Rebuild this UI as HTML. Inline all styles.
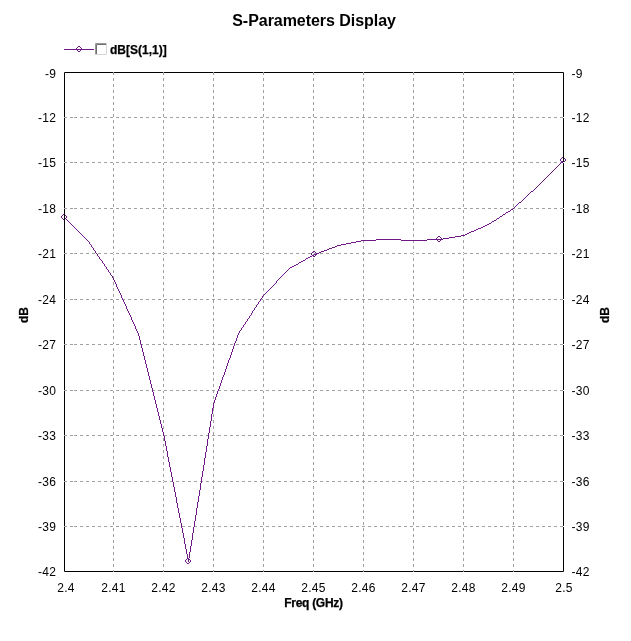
<!DOCTYPE html>
<html><head><meta charset="utf-8"><title>S-Parameters Display</title>
<style>
html,body{margin:0;padding:0;background:#fff;width:631px;height:641px;overflow:hidden}
svg{display:block;font-family:"Liberation Sans",sans-serif;will-change:transform}
</style></head><body>
<svg width="631" height="641" viewBox="0 0 631 641" font-family="Liberation Sans, sans-serif" fill="#000"><g fill="#a0a0a0"><rect x="65" y="117" width="2" height="1"/><rect x="65" y="162" width="2" height="1"/><rect x="65" y="208" width="2" height="1"/><rect x="65" y="253" width="2" height="1"/><rect x="65" y="299" width="2" height="1"/><rect x="65" y="344" width="2" height="1"/><rect x="65" y="390" width="2" height="1"/><rect x="65" y="435" width="2" height="1"/><rect x="65" y="481" width="2" height="1"/><rect x="65" y="526" width="2" height="1"/><rect x="70" y="117" width="3" height="1"/><rect x="70" y="162" width="3" height="1"/><rect x="70" y="208" width="3" height="1"/><rect x="70" y="253" width="3" height="1"/><rect x="70" y="299" width="3" height="1"/><rect x="70" y="344" width="3" height="1"/><rect x="70" y="390" width="3" height="1"/><rect x="70" y="435" width="3" height="1"/><rect x="70" y="481" width="3" height="1"/><rect x="70" y="526" width="3" height="1"/><rect x="74" y="117" width="3" height="1"/><rect x="74" y="162" width="3" height="1"/><rect x="74" y="208" width="3" height="1"/><rect x="74" y="253" width="3" height="1"/><rect x="74" y="299" width="3" height="1"/><rect x="74" y="344" width="3" height="1"/><rect x="74" y="390" width="3" height="1"/><rect x="74" y="435" width="3" height="1"/><rect x="74" y="481" width="3" height="1"/><rect x="74" y="526" width="3" height="1"/><rect x="80" y="117" width="3" height="1"/><rect x="80" y="162" width="3" height="1"/><rect x="80" y="208" width="3" height="1"/><rect x="80" y="253" width="3" height="1"/><rect x="80" y="299" width="3" height="1"/><rect x="80" y="344" width="3" height="1"/><rect x="80" y="390" width="3" height="1"/><rect x="80" y="435" width="3" height="1"/><rect x="80" y="481" width="3" height="1"/><rect x="80" y="526" width="3" height="1"/><rect x="86" y="117" width="3" height="1"/><rect x="86" y="162" width="3" height="1"/><rect x="86" y="208" width="3" height="1"/><rect x="86" y="253" width="3" height="1"/><rect x="86" y="299" width="3" height="1"/><rect x="86" y="344" width="3" height="1"/><rect x="86" y="390" width="3" height="1"/><rect x="86" y="435" width="3" height="1"/><rect x="86" y="481" width="3" height="1"/><rect x="86" y="526" width="3" height="1"/><rect x="92" y="117" width="3" height="1"/><rect x="92" y="162" width="3" height="1"/><rect x="92" y="208" width="3" height="1"/><rect x="92" y="253" width="3" height="1"/><rect x="92" y="299" width="3" height="1"/><rect x="92" y="344" width="3" height="1"/><rect x="92" y="390" width="3" height="1"/><rect x="92" y="435" width="3" height="1"/><rect x="92" y="481" width="3" height="1"/><rect x="92" y="526" width="3" height="1"/><rect x="98" y="117" width="3" height="1"/><rect x="98" y="162" width="3" height="1"/><rect x="98" y="208" width="3" height="1"/><rect x="98" y="253" width="3" height="1"/><rect x="98" y="299" width="3" height="1"/><rect x="98" y="344" width="3" height="1"/><rect x="98" y="390" width="3" height="1"/><rect x="98" y="435" width="3" height="1"/><rect x="98" y="481" width="3" height="1"/><rect x="98" y="526" width="3" height="1"/><rect x="104" y="117" width="3" height="1"/><rect x="104" y="162" width="3" height="1"/><rect x="104" y="208" width="3" height="1"/><rect x="104" y="253" width="3" height="1"/><rect x="104" y="299" width="3" height="1"/><rect x="104" y="344" width="3" height="1"/><rect x="104" y="390" width="3" height="1"/><rect x="104" y="435" width="3" height="1"/><rect x="104" y="481" width="3" height="1"/><rect x="104" y="526" width="3" height="1"/><rect x="110" y="117" width="3" height="1"/><rect x="110" y="162" width="3" height="1"/><rect x="110" y="208" width="3" height="1"/><rect x="110" y="253" width="3" height="1"/><rect x="110" y="299" width="3" height="1"/><rect x="110" y="344" width="3" height="1"/><rect x="110" y="390" width="3" height="1"/><rect x="110" y="435" width="3" height="1"/><rect x="110" y="481" width="3" height="1"/><rect x="110" y="526" width="3" height="1"/><rect x="113" y="73" width="1" height="2"/><rect x="113" y="78" width="1" height="3"/><rect x="113" y="84" width="1" height="3"/><rect x="113" y="90" width="1" height="3"/><rect x="113" y="96" width="1" height="3"/><rect x="113" y="102" width="1" height="3"/><rect x="113" y="108" width="1" height="3"/><rect x="113" y="114" width="1" height="3"/><rect x="113" y="120" width="1" height="3"/><rect x="113" y="126" width="1" height="3"/><rect x="113" y="132" width="1" height="3"/><rect x="113" y="138" width="1" height="3"/><rect x="113" y="144" width="1" height="3"/><rect x="113" y="150" width="1" height="3"/><rect x="113" y="156" width="1" height="3"/><rect x="113" y="163" width="1" height="2"/><rect x="113" y="168" width="1" height="3"/><rect x="113" y="174" width="1" height="3"/><rect x="113" y="180" width="1" height="3"/><rect x="113" y="186" width="1" height="3"/><rect x="113" y="192" width="1" height="3"/><rect x="113" y="198" width="1" height="3"/><rect x="113" y="204" width="1" height="3"/><rect x="113" y="210" width="1" height="3"/><rect x="113" y="216" width="1" height="3"/><rect x="113" y="222" width="1" height="3"/><rect x="113" y="228" width="1" height="3"/><rect x="113" y="234" width="1" height="3"/><rect x="113" y="240" width="1" height="3"/><rect x="113" y="246" width="1" height="3"/><rect x="113" y="252" width="1" height="1"/><rect x="113" y="254" width="1" height="1"/><rect x="113" y="258" width="1" height="3"/><rect x="113" y="264" width="1" height="3"/><rect x="113" y="270" width="1" height="3"/><rect x="113" y="276" width="1" height="3"/><rect x="113" y="282" width="1" height="3"/><rect x="113" y="288" width="1" height="3"/><rect x="113" y="294" width="1" height="3"/><rect x="113" y="300" width="1" height="3"/><rect x="113" y="306" width="1" height="3"/><rect x="113" y="312" width="1" height="3"/><rect x="113" y="318" width="1" height="3"/><rect x="113" y="324" width="1" height="3"/><rect x="113" y="330" width="1" height="3"/><rect x="113" y="336" width="1" height="3"/><rect x="113" y="342" width="1" height="2"/><rect x="113" y="348" width="1" height="3"/><rect x="113" y="354" width="1" height="3"/><rect x="113" y="360" width="1" height="3"/><rect x="113" y="366" width="1" height="3"/><rect x="113" y="372" width="1" height="3"/><rect x="113" y="378" width="1" height="3"/><rect x="113" y="384" width="1" height="3"/><rect x="113" y="391" width="1" height="2"/><rect x="113" y="396" width="1" height="3"/><rect x="113" y="402" width="1" height="3"/><rect x="113" y="408" width="1" height="3"/><rect x="113" y="414" width="1" height="3"/><rect x="113" y="420" width="1" height="3"/><rect x="113" y="426" width="1" height="3"/><rect x="113" y="432" width="1" height="3"/><rect x="113" y="438" width="1" height="3"/><rect x="113" y="444" width="1" height="3"/><rect x="113" y="450" width="1" height="3"/><rect x="113" y="456" width="1" height="3"/><rect x="113" y="462" width="1" height="3"/><rect x="113" y="468" width="1" height="3"/><rect x="113" y="474" width="1" height="3"/><rect x="113" y="480" width="1" height="1"/><rect x="113" y="482" width="1" height="1"/><rect x="113" y="486" width="1" height="3"/><rect x="113" y="492" width="1" height="3"/><rect x="113" y="498" width="1" height="3"/><rect x="113" y="504" width="1" height="3"/><rect x="113" y="510" width="1" height="3"/><rect x="113" y="516" width="1" height="3"/><rect x="113" y="522" width="1" height="3"/><rect x="113" y="528" width="1" height="3"/><rect x="113" y="534" width="1" height="3"/><rect x="113" y="540" width="1" height="3"/><rect x="113" y="546" width="1" height="3"/><rect x="113" y="552" width="1" height="3"/><rect x="113" y="558" width="1" height="3"/><rect x="113" y="564" width="1" height="3"/><rect x="113" y="570" width="1" height="1"/><rect x="116" y="117" width="3" height="1"/><rect x="116" y="162" width="3" height="1"/><rect x="116" y="208" width="3" height="1"/><rect x="116" y="253" width="3" height="1"/><rect x="116" y="299" width="3" height="1"/><rect x="116" y="344" width="3" height="1"/><rect x="116" y="390" width="3" height="1"/><rect x="116" y="435" width="3" height="1"/><rect x="116" y="481" width="3" height="1"/><rect x="116" y="526" width="3" height="1"/><rect x="122" y="117" width="3" height="1"/><rect x="122" y="162" width="3" height="1"/><rect x="122" y="208" width="3" height="1"/><rect x="122" y="253" width="3" height="1"/><rect x="122" y="299" width="3" height="1"/><rect x="122" y="344" width="3" height="1"/><rect x="122" y="390" width="3" height="1"/><rect x="122" y="435" width="3" height="1"/><rect x="122" y="481" width="3" height="1"/><rect x="122" y="526" width="3" height="1"/><rect x="128" y="117" width="3" height="1"/><rect x="128" y="162" width="3" height="1"/><rect x="128" y="208" width="3" height="1"/><rect x="128" y="253" width="3" height="1"/><rect x="128" y="299" width="3" height="1"/><rect x="128" y="344" width="3" height="1"/><rect x="128" y="390" width="3" height="1"/><rect x="128" y="435" width="3" height="1"/><rect x="128" y="481" width="3" height="1"/><rect x="128" y="526" width="3" height="1"/><rect x="134" y="117" width="3" height="1"/><rect x="134" y="162" width="3" height="1"/><rect x="134" y="208" width="3" height="1"/><rect x="134" y="253" width="3" height="1"/><rect x="134" y="299" width="3" height="1"/><rect x="134" y="344" width="3" height="1"/><rect x="134" y="390" width="3" height="1"/><rect x="134" y="435" width="3" height="1"/><rect x="134" y="481" width="3" height="1"/><rect x="134" y="526" width="3" height="1"/><rect x="140" y="117" width="3" height="1"/><rect x="140" y="162" width="3" height="1"/><rect x="140" y="208" width="3" height="1"/><rect x="140" y="253" width="3" height="1"/><rect x="140" y="299" width="3" height="1"/><rect x="140" y="344" width="3" height="1"/><rect x="140" y="390" width="3" height="1"/><rect x="140" y="435" width="3" height="1"/><rect x="140" y="481" width="3" height="1"/><rect x="140" y="526" width="3" height="1"/><rect x="146" y="117" width="3" height="1"/><rect x="146" y="162" width="3" height="1"/><rect x="146" y="208" width="3" height="1"/><rect x="146" y="253" width="3" height="1"/><rect x="146" y="299" width="3" height="1"/><rect x="146" y="344" width="3" height="1"/><rect x="146" y="390" width="3" height="1"/><rect x="146" y="435" width="3" height="1"/><rect x="146" y="481" width="3" height="1"/><rect x="146" y="526" width="3" height="1"/><rect x="152" y="117" width="3" height="1"/><rect x="152" y="162" width="3" height="1"/><rect x="152" y="208" width="3" height="1"/><rect x="152" y="253" width="3" height="1"/><rect x="152" y="299" width="3" height="1"/><rect x="152" y="344" width="3" height="1"/><rect x="152" y="390" width="3" height="1"/><rect x="152" y="435" width="3" height="1"/><rect x="152" y="481" width="3" height="1"/><rect x="152" y="526" width="3" height="1"/><rect x="158" y="117" width="3" height="1"/><rect x="158" y="162" width="3" height="1"/><rect x="158" y="208" width="3" height="1"/><rect x="158" y="253" width="3" height="1"/><rect x="158" y="299" width="3" height="1"/><rect x="158" y="344" width="3" height="1"/><rect x="158" y="390" width="3" height="1"/><rect x="158" y="435" width="3" height="1"/><rect x="158" y="481" width="3" height="1"/><rect x="158" y="526" width="3" height="1"/><rect x="163" y="73" width="1" height="2"/><rect x="163" y="78" width="1" height="3"/><rect x="163" y="84" width="1" height="3"/><rect x="163" y="90" width="1" height="3"/><rect x="163" y="96" width="1" height="3"/><rect x="163" y="102" width="1" height="3"/><rect x="163" y="108" width="1" height="3"/><rect x="163" y="114" width="1" height="3"/><rect x="163" y="120" width="1" height="3"/><rect x="163" y="126" width="1" height="3"/><rect x="163" y="132" width="1" height="3"/><rect x="163" y="138" width="1" height="3"/><rect x="163" y="144" width="1" height="3"/><rect x="163" y="150" width="1" height="3"/><rect x="163" y="156" width="1" height="3"/><rect x="163" y="163" width="1" height="2"/><rect x="163" y="168" width="1" height="3"/><rect x="163" y="174" width="1" height="3"/><rect x="163" y="180" width="1" height="3"/><rect x="163" y="186" width="1" height="3"/><rect x="163" y="192" width="1" height="3"/><rect x="163" y="198" width="1" height="3"/><rect x="163" y="204" width="1" height="3"/><rect x="163" y="210" width="1" height="3"/><rect x="163" y="216" width="1" height="3"/><rect x="163" y="222" width="1" height="3"/><rect x="163" y="228" width="1" height="3"/><rect x="163" y="234" width="1" height="3"/><rect x="163" y="240" width="1" height="3"/><rect x="163" y="246" width="1" height="3"/><rect x="163" y="252" width="1" height="1"/><rect x="163" y="254" width="1" height="1"/><rect x="163" y="258" width="1" height="3"/><rect x="163" y="264" width="1" height="3"/><rect x="163" y="270" width="1" height="3"/><rect x="163" y="276" width="1" height="3"/><rect x="163" y="282" width="1" height="3"/><rect x="163" y="288" width="1" height="3"/><rect x="163" y="294" width="1" height="3"/><rect x="163" y="300" width="1" height="3"/><rect x="163" y="306" width="1" height="3"/><rect x="163" y="312" width="1" height="3"/><rect x="163" y="318" width="1" height="3"/><rect x="163" y="324" width="1" height="3"/><rect x="163" y="330" width="1" height="3"/><rect x="163" y="336" width="1" height="3"/><rect x="163" y="342" width="1" height="2"/><rect x="163" y="348" width="1" height="3"/><rect x="163" y="354" width="1" height="3"/><rect x="163" y="360" width="1" height="3"/><rect x="163" y="366" width="1" height="3"/><rect x="163" y="372" width="1" height="3"/><rect x="163" y="378" width="1" height="3"/><rect x="163" y="384" width="1" height="3"/><rect x="163" y="391" width="1" height="2"/><rect x="163" y="396" width="1" height="3"/><rect x="163" y="402" width="1" height="3"/><rect x="163" y="408" width="1" height="3"/><rect x="163" y="414" width="1" height="3"/><rect x="163" y="420" width="1" height="3"/><rect x="163" y="426" width="1" height="3"/><rect x="163" y="432" width="1" height="3"/><rect x="163" y="438" width="1" height="3"/><rect x="163" y="444" width="1" height="3"/><rect x="163" y="450" width="1" height="3"/><rect x="163" y="456" width="1" height="3"/><rect x="163" y="462" width="1" height="3"/><rect x="163" y="468" width="1" height="3"/><rect x="163" y="474" width="1" height="3"/><rect x="163" y="480" width="1" height="1"/><rect x="163" y="482" width="1" height="1"/><rect x="163" y="486" width="1" height="3"/><rect x="163" y="492" width="1" height="3"/><rect x="163" y="498" width="1" height="3"/><rect x="163" y="504" width="1" height="3"/><rect x="163" y="510" width="1" height="3"/><rect x="163" y="516" width="1" height="3"/><rect x="163" y="522" width="1" height="3"/><rect x="163" y="528" width="1" height="3"/><rect x="163" y="534" width="1" height="3"/><rect x="163" y="540" width="1" height="3"/><rect x="163" y="546" width="1" height="3"/><rect x="163" y="552" width="1" height="3"/><rect x="163" y="558" width="1" height="3"/><rect x="163" y="564" width="1" height="3"/><rect x="163" y="570" width="1" height="1"/><rect x="164" y="117" width="3" height="1"/><rect x="164" y="162" width="3" height="1"/><rect x="164" y="208" width="3" height="1"/><rect x="164" y="253" width="3" height="1"/><rect x="164" y="299" width="3" height="1"/><rect x="164" y="344" width="3" height="1"/><rect x="164" y="390" width="3" height="1"/><rect x="164" y="435" width="3" height="1"/><rect x="164" y="481" width="3" height="1"/><rect x="164" y="526" width="3" height="1"/><rect x="170" y="117" width="3" height="1"/><rect x="170" y="162" width="3" height="1"/><rect x="170" y="208" width="3" height="1"/><rect x="170" y="253" width="3" height="1"/><rect x="170" y="299" width="3" height="1"/><rect x="170" y="344" width="3" height="1"/><rect x="170" y="390" width="3" height="1"/><rect x="170" y="435" width="3" height="1"/><rect x="170" y="481" width="3" height="1"/><rect x="170" y="526" width="3" height="1"/><rect x="176" y="117" width="3" height="1"/><rect x="176" y="162" width="3" height="1"/><rect x="176" y="208" width="3" height="1"/><rect x="176" y="253" width="3" height="1"/><rect x="176" y="299" width="3" height="1"/><rect x="176" y="344" width="3" height="1"/><rect x="176" y="390" width="3" height="1"/><rect x="176" y="435" width="3" height="1"/><rect x="176" y="481" width="3" height="1"/><rect x="176" y="526" width="3" height="1"/><rect x="182" y="117" width="3" height="1"/><rect x="182" y="162" width="3" height="1"/><rect x="182" y="208" width="3" height="1"/><rect x="182" y="253" width="3" height="1"/><rect x="182" y="299" width="3" height="1"/><rect x="182" y="344" width="3" height="1"/><rect x="182" y="390" width="3" height="1"/><rect x="182" y="435" width="3" height="1"/><rect x="182" y="481" width="3" height="1"/><rect x="182" y="526" width="3" height="1"/><rect x="188" y="117" width="3" height="1"/><rect x="188" y="162" width="3" height="1"/><rect x="188" y="208" width="3" height="1"/><rect x="188" y="253" width="3" height="1"/><rect x="188" y="299" width="3" height="1"/><rect x="188" y="344" width="3" height="1"/><rect x="188" y="390" width="3" height="1"/><rect x="188" y="435" width="3" height="1"/><rect x="188" y="481" width="3" height="1"/><rect x="188" y="526" width="3" height="1"/><rect x="194" y="117" width="3" height="1"/><rect x="194" y="162" width="3" height="1"/><rect x="194" y="208" width="3" height="1"/><rect x="194" y="253" width="3" height="1"/><rect x="194" y="299" width="3" height="1"/><rect x="194" y="344" width="3" height="1"/><rect x="194" y="390" width="3" height="1"/><rect x="194" y="435" width="3" height="1"/><rect x="194" y="481" width="3" height="1"/><rect x="194" y="526" width="3" height="1"/><rect x="200" y="117" width="3" height="1"/><rect x="200" y="162" width="3" height="1"/><rect x="200" y="208" width="3" height="1"/><rect x="200" y="253" width="3" height="1"/><rect x="200" y="299" width="3" height="1"/><rect x="200" y="344" width="3" height="1"/><rect x="200" y="390" width="3" height="1"/><rect x="200" y="435" width="3" height="1"/><rect x="200" y="481" width="3" height="1"/><rect x="200" y="526" width="3" height="1"/><rect x="206" y="117" width="3" height="1"/><rect x="206" y="162" width="3" height="1"/><rect x="206" y="208" width="3" height="1"/><rect x="206" y="253" width="3" height="1"/><rect x="206" y="299" width="3" height="1"/><rect x="206" y="344" width="3" height="1"/><rect x="206" y="390" width="3" height="1"/><rect x="206" y="435" width="3" height="1"/><rect x="206" y="481" width="3" height="1"/><rect x="206" y="526" width="3" height="1"/><rect x="212" y="117" width="3" height="1"/><rect x="212" y="162" width="3" height="1"/><rect x="212" y="208" width="3" height="1"/><rect x="212" y="253" width="3" height="1"/><rect x="212" y="299" width="3" height="1"/><rect x="212" y="344" width="3" height="1"/><rect x="212" y="390" width="3" height="1"/><rect x="212" y="435" width="3" height="1"/><rect x="212" y="481" width="3" height="1"/><rect x="212" y="526" width="3" height="1"/><rect x="213" y="73" width="1" height="2"/><rect x="213" y="78" width="1" height="3"/><rect x="213" y="84" width="1" height="3"/><rect x="213" y="90" width="1" height="3"/><rect x="213" y="96" width="1" height="3"/><rect x="213" y="102" width="1" height="3"/><rect x="213" y="108" width="1" height="3"/><rect x="213" y="114" width="1" height="3"/><rect x="213" y="120" width="1" height="3"/><rect x="213" y="126" width="1" height="3"/><rect x="213" y="132" width="1" height="3"/><rect x="213" y="138" width="1" height="3"/><rect x="213" y="144" width="1" height="3"/><rect x="213" y="150" width="1" height="3"/><rect x="213" y="156" width="1" height="3"/><rect x="213" y="163" width="1" height="2"/><rect x="213" y="168" width="1" height="3"/><rect x="213" y="174" width="1" height="3"/><rect x="213" y="180" width="1" height="3"/><rect x="213" y="186" width="1" height="3"/><rect x="213" y="192" width="1" height="3"/><rect x="213" y="198" width="1" height="3"/><rect x="213" y="204" width="1" height="3"/><rect x="213" y="210" width="1" height="3"/><rect x="213" y="216" width="1" height="3"/><rect x="213" y="222" width="1" height="3"/><rect x="213" y="228" width="1" height="3"/><rect x="213" y="234" width="1" height="3"/><rect x="213" y="240" width="1" height="3"/><rect x="213" y="246" width="1" height="3"/><rect x="213" y="252" width="1" height="1"/><rect x="213" y="254" width="1" height="1"/><rect x="213" y="258" width="1" height="3"/><rect x="213" y="264" width="1" height="3"/><rect x="213" y="270" width="1" height="3"/><rect x="213" y="276" width="1" height="3"/><rect x="213" y="282" width="1" height="3"/><rect x="213" y="288" width="1" height="3"/><rect x="213" y="294" width="1" height="3"/><rect x="213" y="300" width="1" height="3"/><rect x="213" y="306" width="1" height="3"/><rect x="213" y="312" width="1" height="3"/><rect x="213" y="318" width="1" height="3"/><rect x="213" y="324" width="1" height="3"/><rect x="213" y="330" width="1" height="3"/><rect x="213" y="336" width="1" height="3"/><rect x="213" y="342" width="1" height="2"/><rect x="213" y="348" width="1" height="3"/><rect x="213" y="354" width="1" height="3"/><rect x="213" y="360" width="1" height="3"/><rect x="213" y="366" width="1" height="3"/><rect x="213" y="372" width="1" height="3"/><rect x="213" y="378" width="1" height="3"/><rect x="213" y="384" width="1" height="3"/><rect x="213" y="391" width="1" height="2"/><rect x="213" y="396" width="1" height="3"/><rect x="213" y="402" width="1" height="3"/><rect x="213" y="408" width="1" height="3"/><rect x="213" y="414" width="1" height="3"/><rect x="213" y="420" width="1" height="3"/><rect x="213" y="426" width="1" height="3"/><rect x="213" y="432" width="1" height="3"/><rect x="213" y="438" width="1" height="3"/><rect x="213" y="444" width="1" height="3"/><rect x="213" y="450" width="1" height="3"/><rect x="213" y="456" width="1" height="3"/><rect x="213" y="462" width="1" height="3"/><rect x="213" y="468" width="1" height="3"/><rect x="213" y="474" width="1" height="3"/><rect x="213" y="480" width="1" height="1"/><rect x="213" y="482" width="1" height="1"/><rect x="213" y="486" width="1" height="3"/><rect x="213" y="492" width="1" height="3"/><rect x="213" y="498" width="1" height="3"/><rect x="213" y="504" width="1" height="3"/><rect x="213" y="510" width="1" height="3"/><rect x="213" y="516" width="1" height="3"/><rect x="213" y="522" width="1" height="3"/><rect x="213" y="528" width="1" height="3"/><rect x="213" y="534" width="1" height="3"/><rect x="213" y="540" width="1" height="3"/><rect x="213" y="546" width="1" height="3"/><rect x="213" y="552" width="1" height="3"/><rect x="213" y="558" width="1" height="3"/><rect x="213" y="564" width="1" height="3"/><rect x="213" y="570" width="1" height="1"/><rect x="218" y="117" width="3" height="1"/><rect x="218" y="162" width="3" height="1"/><rect x="218" y="208" width="3" height="1"/><rect x="218" y="253" width="3" height="1"/><rect x="218" y="299" width="3" height="1"/><rect x="218" y="344" width="3" height="1"/><rect x="218" y="390" width="3" height="1"/><rect x="218" y="435" width="3" height="1"/><rect x="218" y="481" width="3" height="1"/><rect x="218" y="526" width="3" height="1"/><rect x="224" y="117" width="3" height="1"/><rect x="224" y="162" width="3" height="1"/><rect x="224" y="208" width="3" height="1"/><rect x="224" y="253" width="3" height="1"/><rect x="224" y="299" width="3" height="1"/><rect x="224" y="344" width="3" height="1"/><rect x="224" y="390" width="3" height="1"/><rect x="224" y="435" width="3" height="1"/><rect x="224" y="481" width="3" height="1"/><rect x="224" y="526" width="3" height="1"/><rect x="230" y="117" width="3" height="1"/><rect x="230" y="162" width="3" height="1"/><rect x="230" y="208" width="3" height="1"/><rect x="230" y="253" width="3" height="1"/><rect x="230" y="299" width="3" height="1"/><rect x="230" y="344" width="3" height="1"/><rect x="230" y="390" width="3" height="1"/><rect x="230" y="435" width="3" height="1"/><rect x="230" y="481" width="3" height="1"/><rect x="230" y="526" width="3" height="1"/><rect x="236" y="117" width="3" height="1"/><rect x="236" y="162" width="3" height="1"/><rect x="236" y="208" width="3" height="1"/><rect x="236" y="253" width="3" height="1"/><rect x="236" y="299" width="3" height="1"/><rect x="236" y="344" width="3" height="1"/><rect x="236" y="390" width="3" height="1"/><rect x="236" y="435" width="3" height="1"/><rect x="236" y="481" width="3" height="1"/><rect x="236" y="526" width="3" height="1"/><rect x="242" y="117" width="3" height="1"/><rect x="242" y="162" width="3" height="1"/><rect x="242" y="208" width="3" height="1"/><rect x="242" y="253" width="3" height="1"/><rect x="242" y="299" width="3" height="1"/><rect x="242" y="344" width="3" height="1"/><rect x="242" y="390" width="3" height="1"/><rect x="242" y="435" width="3" height="1"/><rect x="242" y="481" width="3" height="1"/><rect x="242" y="526" width="3" height="1"/><rect x="248" y="117" width="3" height="1"/><rect x="248" y="162" width="3" height="1"/><rect x="248" y="208" width="3" height="1"/><rect x="248" y="253" width="3" height="1"/><rect x="248" y="299" width="3" height="1"/><rect x="248" y="344" width="3" height="1"/><rect x="248" y="390" width="3" height="1"/><rect x="248" y="435" width="3" height="1"/><rect x="248" y="481" width="3" height="1"/><rect x="248" y="526" width="3" height="1"/><rect x="254" y="117" width="3" height="1"/><rect x="254" y="162" width="3" height="1"/><rect x="254" y="208" width="3" height="1"/><rect x="254" y="253" width="3" height="1"/><rect x="254" y="299" width="3" height="1"/><rect x="254" y="344" width="3" height="1"/><rect x="254" y="390" width="3" height="1"/><rect x="254" y="435" width="3" height="1"/><rect x="254" y="481" width="3" height="1"/><rect x="254" y="526" width="3" height="1"/><rect x="260" y="117" width="3" height="1"/><rect x="260" y="162" width="3" height="1"/><rect x="260" y="208" width="3" height="1"/><rect x="260" y="253" width="3" height="1"/><rect x="260" y="299" width="3" height="1"/><rect x="260" y="344" width="3" height="1"/><rect x="260" y="390" width="3" height="1"/><rect x="260" y="435" width="3" height="1"/><rect x="260" y="481" width="3" height="1"/><rect x="260" y="526" width="3" height="1"/><rect x="263" y="73" width="1" height="2"/><rect x="263" y="78" width="1" height="3"/><rect x="263" y="84" width="1" height="3"/><rect x="263" y="90" width="1" height="3"/><rect x="263" y="96" width="1" height="3"/><rect x="263" y="102" width="1" height="3"/><rect x="263" y="108" width="1" height="3"/><rect x="263" y="114" width="1" height="3"/><rect x="263" y="120" width="1" height="3"/><rect x="263" y="126" width="1" height="3"/><rect x="263" y="132" width="1" height="3"/><rect x="263" y="138" width="1" height="3"/><rect x="263" y="144" width="1" height="3"/><rect x="263" y="150" width="1" height="3"/><rect x="263" y="156" width="1" height="3"/><rect x="263" y="163" width="1" height="2"/><rect x="263" y="168" width="1" height="3"/><rect x="263" y="174" width="1" height="3"/><rect x="263" y="180" width="1" height="3"/><rect x="263" y="186" width="1" height="3"/><rect x="263" y="192" width="1" height="3"/><rect x="263" y="198" width="1" height="3"/><rect x="263" y="204" width="1" height="3"/><rect x="263" y="210" width="1" height="3"/><rect x="263" y="216" width="1" height="3"/><rect x="263" y="222" width="1" height="3"/><rect x="263" y="228" width="1" height="3"/><rect x="263" y="234" width="1" height="3"/><rect x="263" y="240" width="1" height="3"/><rect x="263" y="246" width="1" height="3"/><rect x="263" y="252" width="1" height="1"/><rect x="263" y="254" width="1" height="1"/><rect x="263" y="258" width="1" height="3"/><rect x="263" y="264" width="1" height="3"/><rect x="263" y="270" width="1" height="3"/><rect x="263" y="276" width="1" height="3"/><rect x="263" y="282" width="1" height="3"/><rect x="263" y="288" width="1" height="3"/><rect x="263" y="294" width="1" height="3"/><rect x="263" y="300" width="1" height="3"/><rect x="263" y="306" width="1" height="3"/><rect x="263" y="312" width="1" height="3"/><rect x="263" y="318" width="1" height="3"/><rect x="263" y="324" width="1" height="3"/><rect x="263" y="330" width="1" height="3"/><rect x="263" y="336" width="1" height="3"/><rect x="263" y="342" width="1" height="2"/><rect x="263" y="348" width="1" height="3"/><rect x="263" y="354" width="1" height="3"/><rect x="263" y="360" width="1" height="3"/><rect x="263" y="366" width="1" height="3"/><rect x="263" y="372" width="1" height="3"/><rect x="263" y="378" width="1" height="3"/><rect x="263" y="384" width="1" height="3"/><rect x="263" y="391" width="1" height="2"/><rect x="263" y="396" width="1" height="3"/><rect x="263" y="402" width="1" height="3"/><rect x="263" y="408" width="1" height="3"/><rect x="263" y="414" width="1" height="3"/><rect x="263" y="420" width="1" height="3"/><rect x="263" y="426" width="1" height="3"/><rect x="263" y="432" width="1" height="3"/><rect x="263" y="438" width="1" height="3"/><rect x="263" y="444" width="1" height="3"/><rect x="263" y="450" width="1" height="3"/><rect x="263" y="456" width="1" height="3"/><rect x="263" y="462" width="1" height="3"/><rect x="263" y="468" width="1" height="3"/><rect x="263" y="474" width="1" height="3"/><rect x="263" y="480" width="1" height="1"/><rect x="263" y="482" width="1" height="1"/><rect x="263" y="486" width="1" height="3"/><rect x="263" y="492" width="1" height="3"/><rect x="263" y="498" width="1" height="3"/><rect x="263" y="504" width="1" height="3"/><rect x="263" y="510" width="1" height="3"/><rect x="263" y="516" width="1" height="3"/><rect x="263" y="522" width="1" height="3"/><rect x="263" y="528" width="1" height="3"/><rect x="263" y="534" width="1" height="3"/><rect x="263" y="540" width="1" height="3"/><rect x="263" y="546" width="1" height="3"/><rect x="263" y="552" width="1" height="3"/><rect x="263" y="558" width="1" height="3"/><rect x="263" y="564" width="1" height="3"/><rect x="263" y="570" width="1" height="1"/><rect x="266" y="117" width="3" height="1"/><rect x="266" y="162" width="3" height="1"/><rect x="266" y="208" width="3" height="1"/><rect x="266" y="253" width="3" height="1"/><rect x="266" y="299" width="3" height="1"/><rect x="266" y="344" width="3" height="1"/><rect x="266" y="390" width="3" height="1"/><rect x="266" y="435" width="3" height="1"/><rect x="266" y="481" width="3" height="1"/><rect x="266" y="526" width="3" height="1"/><rect x="272" y="117" width="3" height="1"/><rect x="272" y="162" width="3" height="1"/><rect x="272" y="208" width="3" height="1"/><rect x="272" y="253" width="3" height="1"/><rect x="272" y="299" width="3" height="1"/><rect x="272" y="344" width="3" height="1"/><rect x="272" y="390" width="3" height="1"/><rect x="272" y="435" width="3" height="1"/><rect x="272" y="481" width="3" height="1"/><rect x="272" y="526" width="3" height="1"/><rect x="278" y="117" width="3" height="1"/><rect x="278" y="162" width="3" height="1"/><rect x="278" y="208" width="3" height="1"/><rect x="278" y="253" width="3" height="1"/><rect x="278" y="299" width="3" height="1"/><rect x="278" y="344" width="3" height="1"/><rect x="278" y="390" width="3" height="1"/><rect x="278" y="435" width="3" height="1"/><rect x="278" y="481" width="3" height="1"/><rect x="278" y="526" width="3" height="1"/><rect x="284" y="117" width="3" height="1"/><rect x="284" y="162" width="3" height="1"/><rect x="284" y="208" width="3" height="1"/><rect x="284" y="253" width="3" height="1"/><rect x="284" y="299" width="3" height="1"/><rect x="284" y="344" width="3" height="1"/><rect x="284" y="390" width="3" height="1"/><rect x="284" y="435" width="3" height="1"/><rect x="284" y="481" width="3" height="1"/><rect x="284" y="526" width="3" height="1"/><rect x="290" y="117" width="3" height="1"/><rect x="290" y="162" width="3" height="1"/><rect x="290" y="208" width="3" height="1"/><rect x="290" y="253" width="3" height="1"/><rect x="290" y="299" width="3" height="1"/><rect x="290" y="344" width="3" height="1"/><rect x="290" y="390" width="3" height="1"/><rect x="290" y="435" width="3" height="1"/><rect x="290" y="481" width="3" height="1"/><rect x="290" y="526" width="3" height="1"/><rect x="296" y="117" width="3" height="1"/><rect x="296" y="162" width="3" height="1"/><rect x="296" y="208" width="3" height="1"/><rect x="296" y="253" width="3" height="1"/><rect x="296" y="299" width="3" height="1"/><rect x="296" y="344" width="3" height="1"/><rect x="296" y="390" width="3" height="1"/><rect x="296" y="435" width="3" height="1"/><rect x="296" y="481" width="3" height="1"/><rect x="296" y="526" width="3" height="1"/><rect x="302" y="117" width="3" height="1"/><rect x="302" y="162" width="3" height="1"/><rect x="302" y="208" width="3" height="1"/><rect x="302" y="253" width="3" height="1"/><rect x="302" y="299" width="3" height="1"/><rect x="302" y="344" width="3" height="1"/><rect x="302" y="390" width="3" height="1"/><rect x="302" y="435" width="3" height="1"/><rect x="302" y="481" width="3" height="1"/><rect x="302" y="526" width="3" height="1"/><rect x="308" y="117" width="3" height="1"/><rect x="308" y="162" width="3" height="1"/><rect x="308" y="208" width="3" height="1"/><rect x="308" y="253" width="3" height="1"/><rect x="308" y="299" width="3" height="1"/><rect x="308" y="344" width="3" height="1"/><rect x="308" y="390" width="3" height="1"/><rect x="308" y="435" width="3" height="1"/><rect x="308" y="481" width="3" height="1"/><rect x="308" y="526" width="3" height="1"/><rect x="313" y="73" width="1" height="2"/><rect x="313" y="78" width="1" height="3"/><rect x="313" y="84" width="1" height="3"/><rect x="313" y="90" width="1" height="3"/><rect x="313" y="96" width="1" height="3"/><rect x="313" y="102" width="1" height="3"/><rect x="313" y="108" width="1" height="3"/><rect x="313" y="114" width="1" height="3"/><rect x="313" y="120" width="1" height="3"/><rect x="313" y="126" width="1" height="3"/><rect x="313" y="132" width="1" height="3"/><rect x="313" y="138" width="1" height="3"/><rect x="313" y="144" width="1" height="3"/><rect x="313" y="150" width="1" height="3"/><rect x="313" y="156" width="1" height="3"/><rect x="313" y="163" width="1" height="2"/><rect x="313" y="168" width="1" height="3"/><rect x="313" y="174" width="1" height="3"/><rect x="313" y="180" width="1" height="3"/><rect x="313" y="186" width="1" height="3"/><rect x="313" y="192" width="1" height="3"/><rect x="313" y="198" width="1" height="3"/><rect x="313" y="204" width="1" height="3"/><rect x="313" y="210" width="1" height="3"/><rect x="313" y="216" width="1" height="3"/><rect x="313" y="222" width="1" height="3"/><rect x="313" y="228" width="1" height="3"/><rect x="313" y="234" width="1" height="3"/><rect x="313" y="240" width="1" height="3"/><rect x="313" y="246" width="1" height="3"/><rect x="313" y="252" width="1" height="1"/><rect x="313" y="254" width="1" height="1"/><rect x="313" y="258" width="1" height="3"/><rect x="313" y="264" width="1" height="3"/><rect x="313" y="270" width="1" height="3"/><rect x="313" y="276" width="1" height="3"/><rect x="313" y="282" width="1" height="3"/><rect x="313" y="288" width="1" height="3"/><rect x="313" y="294" width="1" height="3"/><rect x="313" y="300" width="1" height="3"/><rect x="313" y="306" width="1" height="3"/><rect x="313" y="312" width="1" height="3"/><rect x="313" y="318" width="1" height="3"/><rect x="313" y="324" width="1" height="3"/><rect x="313" y="330" width="1" height="3"/><rect x="313" y="336" width="1" height="3"/><rect x="313" y="342" width="1" height="2"/><rect x="313" y="348" width="1" height="3"/><rect x="313" y="354" width="1" height="3"/><rect x="313" y="360" width="1" height="3"/><rect x="313" y="366" width="1" height="3"/><rect x="313" y="372" width="1" height="3"/><rect x="313" y="378" width="1" height="3"/><rect x="313" y="384" width="1" height="3"/><rect x="313" y="391" width="1" height="2"/><rect x="313" y="396" width="1" height="3"/><rect x="313" y="402" width="1" height="3"/><rect x="313" y="408" width="1" height="3"/><rect x="313" y="414" width="1" height="3"/><rect x="313" y="420" width="1" height="3"/><rect x="313" y="426" width="1" height="3"/><rect x="313" y="432" width="1" height="3"/><rect x="313" y="438" width="1" height="3"/><rect x="313" y="444" width="1" height="3"/><rect x="313" y="450" width="1" height="3"/><rect x="313" y="456" width="1" height="3"/><rect x="313" y="462" width="1" height="3"/><rect x="313" y="468" width="1" height="3"/><rect x="313" y="474" width="1" height="3"/><rect x="313" y="480" width="1" height="1"/><rect x="313" y="482" width="1" height="1"/><rect x="313" y="486" width="1" height="3"/><rect x="313" y="492" width="1" height="3"/><rect x="313" y="498" width="1" height="3"/><rect x="313" y="504" width="1" height="3"/><rect x="313" y="510" width="1" height="3"/><rect x="313" y="516" width="1" height="3"/><rect x="313" y="522" width="1" height="3"/><rect x="313" y="528" width="1" height="3"/><rect x="313" y="534" width="1" height="3"/><rect x="313" y="540" width="1" height="3"/><rect x="313" y="546" width="1" height="3"/><rect x="313" y="552" width="1" height="3"/><rect x="313" y="558" width="1" height="3"/><rect x="313" y="564" width="1" height="3"/><rect x="313" y="570" width="1" height="1"/><rect x="314" y="117" width="3" height="1"/><rect x="314" y="162" width="3" height="1"/><rect x="314" y="208" width="3" height="1"/><rect x="314" y="253" width="3" height="1"/><rect x="314" y="299" width="3" height="1"/><rect x="314" y="344" width="3" height="1"/><rect x="314" y="390" width="3" height="1"/><rect x="314" y="435" width="3" height="1"/><rect x="314" y="481" width="3" height="1"/><rect x="314" y="526" width="3" height="1"/><rect x="320" y="117" width="3" height="1"/><rect x="320" y="162" width="3" height="1"/><rect x="320" y="208" width="3" height="1"/><rect x="320" y="253" width="3" height="1"/><rect x="320" y="299" width="3" height="1"/><rect x="320" y="344" width="3" height="1"/><rect x="320" y="390" width="3" height="1"/><rect x="320" y="435" width="3" height="1"/><rect x="320" y="481" width="3" height="1"/><rect x="320" y="526" width="3" height="1"/><rect x="326" y="117" width="3" height="1"/><rect x="326" y="162" width="3" height="1"/><rect x="326" y="208" width="3" height="1"/><rect x="326" y="253" width="3" height="1"/><rect x="326" y="299" width="3" height="1"/><rect x="326" y="344" width="3" height="1"/><rect x="326" y="390" width="3" height="1"/><rect x="326" y="435" width="3" height="1"/><rect x="326" y="481" width="3" height="1"/><rect x="326" y="526" width="3" height="1"/><rect x="332" y="117" width="3" height="1"/><rect x="332" y="162" width="3" height="1"/><rect x="332" y="208" width="3" height="1"/><rect x="332" y="253" width="3" height="1"/><rect x="332" y="299" width="3" height="1"/><rect x="332" y="344" width="3" height="1"/><rect x="332" y="390" width="3" height="1"/><rect x="332" y="435" width="3" height="1"/><rect x="332" y="481" width="3" height="1"/><rect x="332" y="526" width="3" height="1"/><rect x="338" y="117" width="3" height="1"/><rect x="338" y="162" width="3" height="1"/><rect x="338" y="208" width="3" height="1"/><rect x="338" y="253" width="3" height="1"/><rect x="338" y="299" width="3" height="1"/><rect x="338" y="344" width="3" height="1"/><rect x="338" y="390" width="3" height="1"/><rect x="338" y="435" width="3" height="1"/><rect x="338" y="481" width="3" height="1"/><rect x="338" y="526" width="3" height="1"/><rect x="344" y="117" width="3" height="1"/><rect x="344" y="162" width="3" height="1"/><rect x="344" y="208" width="3" height="1"/><rect x="344" y="253" width="3" height="1"/><rect x="344" y="299" width="3" height="1"/><rect x="344" y="344" width="3" height="1"/><rect x="344" y="390" width="3" height="1"/><rect x="344" y="435" width="3" height="1"/><rect x="344" y="481" width="3" height="1"/><rect x="344" y="526" width="3" height="1"/><rect x="350" y="117" width="3" height="1"/><rect x="350" y="162" width="3" height="1"/><rect x="350" y="208" width="3" height="1"/><rect x="350" y="253" width="3" height="1"/><rect x="350" y="299" width="3" height="1"/><rect x="350" y="344" width="3" height="1"/><rect x="350" y="390" width="3" height="1"/><rect x="350" y="435" width="3" height="1"/><rect x="350" y="481" width="3" height="1"/><rect x="350" y="526" width="3" height="1"/><rect x="356" y="117" width="3" height="1"/><rect x="356" y="162" width="3" height="1"/><rect x="356" y="208" width="3" height="1"/><rect x="356" y="253" width="3" height="1"/><rect x="356" y="299" width="3" height="1"/><rect x="356" y="344" width="3" height="1"/><rect x="356" y="390" width="3" height="1"/><rect x="356" y="435" width="3" height="1"/><rect x="356" y="481" width="3" height="1"/><rect x="356" y="526" width="3" height="1"/><rect x="362" y="117" width="3" height="1"/><rect x="362" y="162" width="3" height="1"/><rect x="362" y="208" width="3" height="1"/><rect x="362" y="253" width="3" height="1"/><rect x="362" y="299" width="3" height="1"/><rect x="362" y="344" width="3" height="1"/><rect x="362" y="390" width="3" height="1"/><rect x="362" y="435" width="3" height="1"/><rect x="362" y="481" width="3" height="1"/><rect x="362" y="526" width="3" height="1"/><rect x="363" y="73" width="1" height="2"/><rect x="363" y="78" width="1" height="3"/><rect x="363" y="84" width="1" height="3"/><rect x="363" y="90" width="1" height="3"/><rect x="363" y="96" width="1" height="3"/><rect x="363" y="102" width="1" height="3"/><rect x="363" y="108" width="1" height="3"/><rect x="363" y="114" width="1" height="3"/><rect x="363" y="120" width="1" height="3"/><rect x="363" y="126" width="1" height="3"/><rect x="363" y="132" width="1" height="3"/><rect x="363" y="138" width="1" height="3"/><rect x="363" y="144" width="1" height="3"/><rect x="363" y="150" width="1" height="3"/><rect x="363" y="156" width="1" height="3"/><rect x="363" y="163" width="1" height="2"/><rect x="363" y="168" width="1" height="3"/><rect x="363" y="174" width="1" height="3"/><rect x="363" y="180" width="1" height="3"/><rect x="363" y="186" width="1" height="3"/><rect x="363" y="192" width="1" height="3"/><rect x="363" y="198" width="1" height="3"/><rect x="363" y="204" width="1" height="3"/><rect x="363" y="210" width="1" height="3"/><rect x="363" y="216" width="1" height="3"/><rect x="363" y="222" width="1" height="3"/><rect x="363" y="228" width="1" height="3"/><rect x="363" y="234" width="1" height="3"/><rect x="363" y="240" width="1" height="3"/><rect x="363" y="246" width="1" height="3"/><rect x="363" y="252" width="1" height="1"/><rect x="363" y="254" width="1" height="1"/><rect x="363" y="258" width="1" height="3"/><rect x="363" y="264" width="1" height="3"/><rect x="363" y="270" width="1" height="3"/><rect x="363" y="276" width="1" height="3"/><rect x="363" y="282" width="1" height="3"/><rect x="363" y="288" width="1" height="3"/><rect x="363" y="294" width="1" height="3"/><rect x="363" y="300" width="1" height="3"/><rect x="363" y="306" width="1" height="3"/><rect x="363" y="312" width="1" height="3"/><rect x="363" y="318" width="1" height="3"/><rect x="363" y="324" width="1" height="3"/><rect x="363" y="330" width="1" height="3"/><rect x="363" y="336" width="1" height="3"/><rect x="363" y="342" width="1" height="2"/><rect x="363" y="348" width="1" height="3"/><rect x="363" y="354" width="1" height="3"/><rect x="363" y="360" width="1" height="3"/><rect x="363" y="366" width="1" height="3"/><rect x="363" y="372" width="1" height="3"/><rect x="363" y="378" width="1" height="3"/><rect x="363" y="384" width="1" height="3"/><rect x="363" y="391" width="1" height="2"/><rect x="363" y="396" width="1" height="3"/><rect x="363" y="402" width="1" height="3"/><rect x="363" y="408" width="1" height="3"/><rect x="363" y="414" width="1" height="3"/><rect x="363" y="420" width="1" height="3"/><rect x="363" y="426" width="1" height="3"/><rect x="363" y="432" width="1" height="3"/><rect x="363" y="438" width="1" height="3"/><rect x="363" y="444" width="1" height="3"/><rect x="363" y="450" width="1" height="3"/><rect x="363" y="456" width="1" height="3"/><rect x="363" y="462" width="1" height="3"/><rect x="363" y="468" width="1" height="3"/><rect x="363" y="474" width="1" height="3"/><rect x="363" y="480" width="1" height="1"/><rect x="363" y="482" width="1" height="1"/><rect x="363" y="486" width="1" height="3"/><rect x="363" y="492" width="1" height="3"/><rect x="363" y="498" width="1" height="3"/><rect x="363" y="504" width="1" height="3"/><rect x="363" y="510" width="1" height="3"/><rect x="363" y="516" width="1" height="3"/><rect x="363" y="522" width="1" height="3"/><rect x="363" y="528" width="1" height="3"/><rect x="363" y="534" width="1" height="3"/><rect x="363" y="540" width="1" height="3"/><rect x="363" y="546" width="1" height="3"/><rect x="363" y="552" width="1" height="3"/><rect x="363" y="558" width="1" height="3"/><rect x="363" y="564" width="1" height="3"/><rect x="363" y="570" width="1" height="1"/><rect x="368" y="117" width="3" height="1"/><rect x="368" y="162" width="3" height="1"/><rect x="368" y="208" width="3" height="1"/><rect x="368" y="253" width="3" height="1"/><rect x="368" y="299" width="3" height="1"/><rect x="368" y="344" width="3" height="1"/><rect x="368" y="390" width="3" height="1"/><rect x="368" y="435" width="3" height="1"/><rect x="368" y="481" width="3" height="1"/><rect x="368" y="526" width="3" height="1"/><rect x="374" y="117" width="3" height="1"/><rect x="374" y="162" width="3" height="1"/><rect x="374" y="208" width="3" height="1"/><rect x="374" y="253" width="3" height="1"/><rect x="374" y="299" width="3" height="1"/><rect x="374" y="344" width="3" height="1"/><rect x="374" y="390" width="3" height="1"/><rect x="374" y="435" width="3" height="1"/><rect x="374" y="481" width="3" height="1"/><rect x="374" y="526" width="3" height="1"/><rect x="380" y="117" width="3" height="1"/><rect x="380" y="162" width="3" height="1"/><rect x="380" y="208" width="3" height="1"/><rect x="380" y="253" width="3" height="1"/><rect x="380" y="299" width="3" height="1"/><rect x="380" y="344" width="3" height="1"/><rect x="380" y="390" width="3" height="1"/><rect x="380" y="435" width="3" height="1"/><rect x="380" y="481" width="3" height="1"/><rect x="380" y="526" width="3" height="1"/><rect x="386" y="117" width="3" height="1"/><rect x="386" y="162" width="3" height="1"/><rect x="386" y="208" width="3" height="1"/><rect x="386" y="253" width="3" height="1"/><rect x="386" y="299" width="3" height="1"/><rect x="386" y="344" width="3" height="1"/><rect x="386" y="390" width="3" height="1"/><rect x="386" y="435" width="3" height="1"/><rect x="386" y="481" width="3" height="1"/><rect x="386" y="526" width="3" height="1"/><rect x="392" y="117" width="3" height="1"/><rect x="392" y="162" width="3" height="1"/><rect x="392" y="208" width="3" height="1"/><rect x="392" y="253" width="3" height="1"/><rect x="392" y="299" width="3" height="1"/><rect x="392" y="344" width="3" height="1"/><rect x="392" y="390" width="3" height="1"/><rect x="392" y="435" width="3" height="1"/><rect x="392" y="481" width="3" height="1"/><rect x="392" y="526" width="3" height="1"/><rect x="398" y="117" width="3" height="1"/><rect x="398" y="162" width="3" height="1"/><rect x="398" y="208" width="3" height="1"/><rect x="398" y="253" width="3" height="1"/><rect x="398" y="299" width="3" height="1"/><rect x="398" y="344" width="3" height="1"/><rect x="398" y="390" width="3" height="1"/><rect x="398" y="435" width="3" height="1"/><rect x="398" y="481" width="3" height="1"/><rect x="398" y="526" width="3" height="1"/><rect x="404" y="117" width="3" height="1"/><rect x="404" y="162" width="3" height="1"/><rect x="404" y="208" width="3" height="1"/><rect x="404" y="253" width="3" height="1"/><rect x="404" y="299" width="3" height="1"/><rect x="404" y="344" width="3" height="1"/><rect x="404" y="390" width="3" height="1"/><rect x="404" y="435" width="3" height="1"/><rect x="404" y="481" width="3" height="1"/><rect x="404" y="526" width="3" height="1"/><rect x="410" y="117" width="3" height="1"/><rect x="410" y="162" width="3" height="1"/><rect x="410" y="208" width="3" height="1"/><rect x="410" y="253" width="3" height="1"/><rect x="410" y="299" width="3" height="1"/><rect x="410" y="344" width="3" height="1"/><rect x="410" y="390" width="3" height="1"/><rect x="410" y="435" width="3" height="1"/><rect x="410" y="481" width="3" height="1"/><rect x="410" y="526" width="3" height="1"/><rect x="413" y="73" width="1" height="2"/><rect x="413" y="78" width="1" height="3"/><rect x="413" y="84" width="1" height="3"/><rect x="413" y="90" width="1" height="3"/><rect x="413" y="96" width="1" height="3"/><rect x="413" y="102" width="1" height="3"/><rect x="413" y="108" width="1" height="3"/><rect x="413" y="114" width="1" height="3"/><rect x="413" y="120" width="1" height="3"/><rect x="413" y="126" width="1" height="3"/><rect x="413" y="132" width="1" height="3"/><rect x="413" y="138" width="1" height="3"/><rect x="413" y="144" width="1" height="3"/><rect x="413" y="150" width="1" height="3"/><rect x="413" y="156" width="1" height="3"/><rect x="413" y="163" width="1" height="2"/><rect x="413" y="168" width="1" height="3"/><rect x="413" y="174" width="1" height="3"/><rect x="413" y="180" width="1" height="3"/><rect x="413" y="186" width="1" height="3"/><rect x="413" y="192" width="1" height="3"/><rect x="413" y="198" width="1" height="3"/><rect x="413" y="204" width="1" height="3"/><rect x="413" y="210" width="1" height="3"/><rect x="413" y="216" width="1" height="3"/><rect x="413" y="222" width="1" height="3"/><rect x="413" y="228" width="1" height="3"/><rect x="413" y="234" width="1" height="3"/><rect x="413" y="240" width="1" height="3"/><rect x="413" y="246" width="1" height="3"/><rect x="413" y="252" width="1" height="1"/><rect x="413" y="254" width="1" height="1"/><rect x="413" y="258" width="1" height="3"/><rect x="413" y="264" width="1" height="3"/><rect x="413" y="270" width="1" height="3"/><rect x="413" y="276" width="1" height="3"/><rect x="413" y="282" width="1" height="3"/><rect x="413" y="288" width="1" height="3"/><rect x="413" y="294" width="1" height="3"/><rect x="413" y="300" width="1" height="3"/><rect x="413" y="306" width="1" height="3"/><rect x="413" y="312" width="1" height="3"/><rect x="413" y="318" width="1" height="3"/><rect x="413" y="324" width="1" height="3"/><rect x="413" y="330" width="1" height="3"/><rect x="413" y="336" width="1" height="3"/><rect x="413" y="342" width="1" height="2"/><rect x="413" y="348" width="1" height="3"/><rect x="413" y="354" width="1" height="3"/><rect x="413" y="360" width="1" height="3"/><rect x="413" y="366" width="1" height="3"/><rect x="413" y="372" width="1" height="3"/><rect x="413" y="378" width="1" height="3"/><rect x="413" y="384" width="1" height="3"/><rect x="413" y="391" width="1" height="2"/><rect x="413" y="396" width="1" height="3"/><rect x="413" y="402" width="1" height="3"/><rect x="413" y="408" width="1" height="3"/><rect x="413" y="414" width="1" height="3"/><rect x="413" y="420" width="1" height="3"/><rect x="413" y="426" width="1" height="3"/><rect x="413" y="432" width="1" height="3"/><rect x="413" y="438" width="1" height="3"/><rect x="413" y="444" width="1" height="3"/><rect x="413" y="450" width="1" height="3"/><rect x="413" y="456" width="1" height="3"/><rect x="413" y="462" width="1" height="3"/><rect x="413" y="468" width="1" height="3"/><rect x="413" y="474" width="1" height="3"/><rect x="413" y="480" width="1" height="1"/><rect x="413" y="482" width="1" height="1"/><rect x="413" y="486" width="1" height="3"/><rect x="413" y="492" width="1" height="3"/><rect x="413" y="498" width="1" height="3"/><rect x="413" y="504" width="1" height="3"/><rect x="413" y="510" width="1" height="3"/><rect x="413" y="516" width="1" height="3"/><rect x="413" y="522" width="1" height="3"/><rect x="413" y="528" width="1" height="3"/><rect x="413" y="534" width="1" height="3"/><rect x="413" y="540" width="1" height="3"/><rect x="413" y="546" width="1" height="3"/><rect x="413" y="552" width="1" height="3"/><rect x="413" y="558" width="1" height="3"/><rect x="413" y="564" width="1" height="3"/><rect x="413" y="570" width="1" height="1"/><rect x="416" y="117" width="3" height="1"/><rect x="416" y="162" width="3" height="1"/><rect x="416" y="208" width="3" height="1"/><rect x="416" y="253" width="3" height="1"/><rect x="416" y="299" width="3" height="1"/><rect x="416" y="344" width="3" height="1"/><rect x="416" y="390" width="3" height="1"/><rect x="416" y="435" width="3" height="1"/><rect x="416" y="481" width="3" height="1"/><rect x="416" y="526" width="3" height="1"/><rect x="422" y="117" width="3" height="1"/><rect x="422" y="162" width="3" height="1"/><rect x="422" y="208" width="3" height="1"/><rect x="422" y="253" width="3" height="1"/><rect x="422" y="299" width="3" height="1"/><rect x="422" y="344" width="3" height="1"/><rect x="422" y="390" width="3" height="1"/><rect x="422" y="435" width="3" height="1"/><rect x="422" y="481" width="3" height="1"/><rect x="422" y="526" width="3" height="1"/><rect x="428" y="117" width="3" height="1"/><rect x="428" y="162" width="3" height="1"/><rect x="428" y="208" width="3" height="1"/><rect x="428" y="253" width="3" height="1"/><rect x="428" y="299" width="3" height="1"/><rect x="428" y="344" width="3" height="1"/><rect x="428" y="390" width="3" height="1"/><rect x="428" y="435" width="3" height="1"/><rect x="428" y="481" width="3" height="1"/><rect x="428" y="526" width="3" height="1"/><rect x="434" y="117" width="3" height="1"/><rect x="434" y="162" width="3" height="1"/><rect x="434" y="208" width="3" height="1"/><rect x="434" y="253" width="3" height="1"/><rect x="434" y="299" width="3" height="1"/><rect x="434" y="344" width="3" height="1"/><rect x="434" y="390" width="3" height="1"/><rect x="434" y="435" width="3" height="1"/><rect x="434" y="481" width="3" height="1"/><rect x="434" y="526" width="3" height="1"/><rect x="440" y="117" width="3" height="1"/><rect x="440" y="162" width="3" height="1"/><rect x="440" y="208" width="3" height="1"/><rect x="440" y="253" width="3" height="1"/><rect x="440" y="299" width="3" height="1"/><rect x="440" y="344" width="3" height="1"/><rect x="440" y="390" width="3" height="1"/><rect x="440" y="435" width="3" height="1"/><rect x="440" y="481" width="3" height="1"/><rect x="440" y="526" width="3" height="1"/><rect x="446" y="117" width="3" height="1"/><rect x="446" y="162" width="3" height="1"/><rect x="446" y="208" width="3" height="1"/><rect x="446" y="253" width="3" height="1"/><rect x="446" y="299" width="3" height="1"/><rect x="446" y="344" width="3" height="1"/><rect x="446" y="390" width="3" height="1"/><rect x="446" y="435" width="3" height="1"/><rect x="446" y="481" width="3" height="1"/><rect x="446" y="526" width="3" height="1"/><rect x="452" y="117" width="3" height="1"/><rect x="452" y="162" width="3" height="1"/><rect x="452" y="208" width="3" height="1"/><rect x="452" y="253" width="3" height="1"/><rect x="452" y="299" width="3" height="1"/><rect x="452" y="344" width="3" height="1"/><rect x="452" y="390" width="3" height="1"/><rect x="452" y="435" width="3" height="1"/><rect x="452" y="481" width="3" height="1"/><rect x="452" y="526" width="3" height="1"/><rect x="458" y="117" width="3" height="1"/><rect x="458" y="162" width="3" height="1"/><rect x="458" y="208" width="3" height="1"/><rect x="458" y="253" width="3" height="1"/><rect x="458" y="299" width="3" height="1"/><rect x="458" y="344" width="3" height="1"/><rect x="458" y="390" width="3" height="1"/><rect x="458" y="435" width="3" height="1"/><rect x="458" y="481" width="3" height="1"/><rect x="458" y="526" width="3" height="1"/><rect x="463" y="73" width="1" height="2"/><rect x="463" y="78" width="1" height="3"/><rect x="463" y="84" width="1" height="3"/><rect x="463" y="90" width="1" height="3"/><rect x="463" y="96" width="1" height="3"/><rect x="463" y="102" width="1" height="3"/><rect x="463" y="108" width="1" height="3"/><rect x="463" y="114" width="1" height="3"/><rect x="463" y="120" width="1" height="3"/><rect x="463" y="126" width="1" height="3"/><rect x="463" y="132" width="1" height="3"/><rect x="463" y="138" width="1" height="3"/><rect x="463" y="144" width="1" height="3"/><rect x="463" y="150" width="1" height="3"/><rect x="463" y="156" width="1" height="3"/><rect x="463" y="163" width="1" height="2"/><rect x="463" y="168" width="1" height="3"/><rect x="463" y="174" width="1" height="3"/><rect x="463" y="180" width="1" height="3"/><rect x="463" y="186" width="1" height="3"/><rect x="463" y="192" width="1" height="3"/><rect x="463" y="198" width="1" height="3"/><rect x="463" y="204" width="1" height="3"/><rect x="463" y="210" width="1" height="3"/><rect x="463" y="216" width="1" height="3"/><rect x="463" y="222" width="1" height="3"/><rect x="463" y="228" width="1" height="3"/><rect x="463" y="234" width="1" height="3"/><rect x="463" y="240" width="1" height="3"/><rect x="463" y="246" width="1" height="3"/><rect x="463" y="252" width="1" height="1"/><rect x="463" y="254" width="1" height="1"/><rect x="463" y="258" width="1" height="3"/><rect x="463" y="264" width="1" height="3"/><rect x="463" y="270" width="1" height="3"/><rect x="463" y="276" width="1" height="3"/><rect x="463" y="282" width="1" height="3"/><rect x="463" y="288" width="1" height="3"/><rect x="463" y="294" width="1" height="3"/><rect x="463" y="300" width="1" height="3"/><rect x="463" y="306" width="1" height="3"/><rect x="463" y="312" width="1" height="3"/><rect x="463" y="318" width="1" height="3"/><rect x="463" y="324" width="1" height="3"/><rect x="463" y="330" width="1" height="3"/><rect x="463" y="336" width="1" height="3"/><rect x="463" y="342" width="1" height="2"/><rect x="463" y="348" width="1" height="3"/><rect x="463" y="354" width="1" height="3"/><rect x="463" y="360" width="1" height="3"/><rect x="463" y="366" width="1" height="3"/><rect x="463" y="372" width="1" height="3"/><rect x="463" y="378" width="1" height="3"/><rect x="463" y="384" width="1" height="3"/><rect x="463" y="391" width="1" height="2"/><rect x="463" y="396" width="1" height="3"/><rect x="463" y="402" width="1" height="3"/><rect x="463" y="408" width="1" height="3"/><rect x="463" y="414" width="1" height="3"/><rect x="463" y="420" width="1" height="3"/><rect x="463" y="426" width="1" height="3"/><rect x="463" y="432" width="1" height="3"/><rect x="463" y="438" width="1" height="3"/><rect x="463" y="444" width="1" height="3"/><rect x="463" y="450" width="1" height="3"/><rect x="463" y="456" width="1" height="3"/><rect x="463" y="462" width="1" height="3"/><rect x="463" y="468" width="1" height="3"/><rect x="463" y="474" width="1" height="3"/><rect x="463" y="480" width="1" height="1"/><rect x="463" y="482" width="1" height="1"/><rect x="463" y="486" width="1" height="3"/><rect x="463" y="492" width="1" height="3"/><rect x="463" y="498" width="1" height="3"/><rect x="463" y="504" width="1" height="3"/><rect x="463" y="510" width="1" height="3"/><rect x="463" y="516" width="1" height="3"/><rect x="463" y="522" width="1" height="3"/><rect x="463" y="528" width="1" height="3"/><rect x="463" y="534" width="1" height="3"/><rect x="463" y="540" width="1" height="3"/><rect x="463" y="546" width="1" height="3"/><rect x="463" y="552" width="1" height="3"/><rect x="463" y="558" width="1" height="3"/><rect x="463" y="564" width="1" height="3"/><rect x="463" y="570" width="1" height="1"/><rect x="464" y="117" width="3" height="1"/><rect x="464" y="162" width="3" height="1"/><rect x="464" y="208" width="3" height="1"/><rect x="464" y="253" width="3" height="1"/><rect x="464" y="299" width="3" height="1"/><rect x="464" y="344" width="3" height="1"/><rect x="464" y="390" width="3" height="1"/><rect x="464" y="435" width="3" height="1"/><rect x="464" y="481" width="3" height="1"/><rect x="464" y="526" width="3" height="1"/><rect x="470" y="117" width="3" height="1"/><rect x="470" y="162" width="3" height="1"/><rect x="470" y="208" width="3" height="1"/><rect x="470" y="253" width="3" height="1"/><rect x="470" y="299" width="3" height="1"/><rect x="470" y="344" width="3" height="1"/><rect x="470" y="390" width="3" height="1"/><rect x="470" y="435" width="3" height="1"/><rect x="470" y="481" width="3" height="1"/><rect x="470" y="526" width="3" height="1"/><rect x="476" y="117" width="3" height="1"/><rect x="476" y="162" width="3" height="1"/><rect x="476" y="208" width="3" height="1"/><rect x="476" y="253" width="3" height="1"/><rect x="476" y="299" width="3" height="1"/><rect x="476" y="344" width="3" height="1"/><rect x="476" y="390" width="3" height="1"/><rect x="476" y="435" width="3" height="1"/><rect x="476" y="481" width="3" height="1"/><rect x="476" y="526" width="3" height="1"/><rect x="482" y="117" width="3" height="1"/><rect x="482" y="162" width="3" height="1"/><rect x="482" y="208" width="3" height="1"/><rect x="482" y="253" width="3" height="1"/><rect x="482" y="299" width="3" height="1"/><rect x="482" y="344" width="3" height="1"/><rect x="482" y="390" width="3" height="1"/><rect x="482" y="435" width="3" height="1"/><rect x="482" y="481" width="3" height="1"/><rect x="482" y="526" width="3" height="1"/><rect x="488" y="117" width="3" height="1"/><rect x="488" y="162" width="3" height="1"/><rect x="488" y="208" width="3" height="1"/><rect x="488" y="253" width="3" height="1"/><rect x="488" y="299" width="3" height="1"/><rect x="488" y="344" width="3" height="1"/><rect x="488" y="390" width="3" height="1"/><rect x="488" y="435" width="3" height="1"/><rect x="488" y="481" width="3" height="1"/><rect x="488" y="526" width="3" height="1"/><rect x="494" y="117" width="3" height="1"/><rect x="494" y="162" width="3" height="1"/><rect x="494" y="208" width="3" height="1"/><rect x="494" y="253" width="3" height="1"/><rect x="494" y="299" width="3" height="1"/><rect x="494" y="344" width="3" height="1"/><rect x="494" y="390" width="3" height="1"/><rect x="494" y="435" width="3" height="1"/><rect x="494" y="481" width="3" height="1"/><rect x="494" y="526" width="3" height="1"/><rect x="500" y="117" width="3" height="1"/><rect x="500" y="162" width="3" height="1"/><rect x="500" y="208" width="3" height="1"/><rect x="500" y="253" width="3" height="1"/><rect x="500" y="299" width="3" height="1"/><rect x="500" y="344" width="3" height="1"/><rect x="500" y="390" width="3" height="1"/><rect x="500" y="435" width="3" height="1"/><rect x="500" y="481" width="3" height="1"/><rect x="500" y="526" width="3" height="1"/><rect x="506" y="117" width="3" height="1"/><rect x="506" y="162" width="3" height="1"/><rect x="506" y="208" width="3" height="1"/><rect x="506" y="253" width="3" height="1"/><rect x="506" y="299" width="3" height="1"/><rect x="506" y="344" width="3" height="1"/><rect x="506" y="390" width="3" height="1"/><rect x="506" y="435" width="3" height="1"/><rect x="506" y="481" width="3" height="1"/><rect x="506" y="526" width="3" height="1"/><rect x="512" y="117" width="3" height="1"/><rect x="512" y="162" width="3" height="1"/><rect x="512" y="208" width="3" height="1"/><rect x="512" y="253" width="3" height="1"/><rect x="512" y="299" width="3" height="1"/><rect x="512" y="344" width="3" height="1"/><rect x="512" y="390" width="3" height="1"/><rect x="512" y="435" width="3" height="1"/><rect x="512" y="481" width="3" height="1"/><rect x="512" y="526" width="3" height="1"/><rect x="513" y="73" width="1" height="2"/><rect x="513" y="78" width="1" height="3"/><rect x="513" y="84" width="1" height="3"/><rect x="513" y="90" width="1" height="3"/><rect x="513" y="96" width="1" height="3"/><rect x="513" y="102" width="1" height="3"/><rect x="513" y="108" width="1" height="3"/><rect x="513" y="114" width="1" height="3"/><rect x="513" y="120" width="1" height="3"/><rect x="513" y="126" width="1" height="3"/><rect x="513" y="132" width="1" height="3"/><rect x="513" y="138" width="1" height="3"/><rect x="513" y="144" width="1" height="3"/><rect x="513" y="150" width="1" height="3"/><rect x="513" y="156" width="1" height="3"/><rect x="513" y="163" width="1" height="2"/><rect x="513" y="168" width="1" height="3"/><rect x="513" y="174" width="1" height="3"/><rect x="513" y="180" width="1" height="3"/><rect x="513" y="186" width="1" height="3"/><rect x="513" y="192" width="1" height="3"/><rect x="513" y="198" width="1" height="3"/><rect x="513" y="204" width="1" height="3"/><rect x="513" y="210" width="1" height="3"/><rect x="513" y="216" width="1" height="3"/><rect x="513" y="222" width="1" height="3"/><rect x="513" y="228" width="1" height="3"/><rect x="513" y="234" width="1" height="3"/><rect x="513" y="240" width="1" height="3"/><rect x="513" y="246" width="1" height="3"/><rect x="513" y="252" width="1" height="1"/><rect x="513" y="254" width="1" height="1"/><rect x="513" y="258" width="1" height="3"/><rect x="513" y="264" width="1" height="3"/><rect x="513" y="270" width="1" height="3"/><rect x="513" y="276" width="1" height="3"/><rect x="513" y="282" width="1" height="3"/><rect x="513" y="288" width="1" height="3"/><rect x="513" y="294" width="1" height="3"/><rect x="513" y="300" width="1" height="3"/><rect x="513" y="306" width="1" height="3"/><rect x="513" y="312" width="1" height="3"/><rect x="513" y="318" width="1" height="3"/><rect x="513" y="324" width="1" height="3"/><rect x="513" y="330" width="1" height="3"/><rect x="513" y="336" width="1" height="3"/><rect x="513" y="342" width="1" height="2"/><rect x="513" y="348" width="1" height="3"/><rect x="513" y="354" width="1" height="3"/><rect x="513" y="360" width="1" height="3"/><rect x="513" y="366" width="1" height="3"/><rect x="513" y="372" width="1" height="3"/><rect x="513" y="378" width="1" height="3"/><rect x="513" y="384" width="1" height="3"/><rect x="513" y="391" width="1" height="2"/><rect x="513" y="396" width="1" height="3"/><rect x="513" y="402" width="1" height="3"/><rect x="513" y="408" width="1" height="3"/><rect x="513" y="414" width="1" height="3"/><rect x="513" y="420" width="1" height="3"/><rect x="513" y="426" width="1" height="3"/><rect x="513" y="432" width="1" height="3"/><rect x="513" y="438" width="1" height="3"/><rect x="513" y="444" width="1" height="3"/><rect x="513" y="450" width="1" height="3"/><rect x="513" y="456" width="1" height="3"/><rect x="513" y="462" width="1" height="3"/><rect x="513" y="468" width="1" height="3"/><rect x="513" y="474" width="1" height="3"/><rect x="513" y="480" width="1" height="1"/><rect x="513" y="482" width="1" height="1"/><rect x="513" y="486" width="1" height="3"/><rect x="513" y="492" width="1" height="3"/><rect x="513" y="498" width="1" height="3"/><rect x="513" y="504" width="1" height="3"/><rect x="513" y="510" width="1" height="3"/><rect x="513" y="516" width="1" height="3"/><rect x="513" y="522" width="1" height="3"/><rect x="513" y="528" width="1" height="3"/><rect x="513" y="534" width="1" height="3"/><rect x="513" y="540" width="1" height="3"/><rect x="513" y="546" width="1" height="3"/><rect x="513" y="552" width="1" height="3"/><rect x="513" y="558" width="1" height="3"/><rect x="513" y="564" width="1" height="3"/><rect x="513" y="570" width="1" height="1"/><rect x="518" y="117" width="3" height="1"/><rect x="518" y="162" width="3" height="1"/><rect x="518" y="208" width="3" height="1"/><rect x="518" y="253" width="3" height="1"/><rect x="518" y="299" width="3" height="1"/><rect x="518" y="344" width="3" height="1"/><rect x="518" y="390" width="3" height="1"/><rect x="518" y="435" width="3" height="1"/><rect x="518" y="481" width="3" height="1"/><rect x="518" y="526" width="3" height="1"/><rect x="524" y="117" width="3" height="1"/><rect x="524" y="162" width="3" height="1"/><rect x="524" y="208" width="3" height="1"/><rect x="524" y="253" width="3" height="1"/><rect x="524" y="299" width="3" height="1"/><rect x="524" y="344" width="3" height="1"/><rect x="524" y="390" width="3" height="1"/><rect x="524" y="435" width="3" height="1"/><rect x="524" y="481" width="3" height="1"/><rect x="524" y="526" width="3" height="1"/><rect x="530" y="117" width="3" height="1"/><rect x="530" y="162" width="3" height="1"/><rect x="530" y="208" width="3" height="1"/><rect x="530" y="253" width="3" height="1"/><rect x="530" y="299" width="3" height="1"/><rect x="530" y="344" width="3" height="1"/><rect x="530" y="390" width="3" height="1"/><rect x="530" y="435" width="3" height="1"/><rect x="530" y="481" width="3" height="1"/><rect x="530" y="526" width="3" height="1"/><rect x="536" y="117" width="3" height="1"/><rect x="536" y="162" width="3" height="1"/><rect x="536" y="208" width="3" height="1"/><rect x="536" y="253" width="3" height="1"/><rect x="536" y="299" width="3" height="1"/><rect x="536" y="344" width="3" height="1"/><rect x="536" y="390" width="3" height="1"/><rect x="536" y="435" width="3" height="1"/><rect x="536" y="481" width="3" height="1"/><rect x="536" y="526" width="3" height="1"/><rect x="542" y="117" width="3" height="1"/><rect x="542" y="162" width="3" height="1"/><rect x="542" y="208" width="3" height="1"/><rect x="542" y="253" width="3" height="1"/><rect x="542" y="299" width="3" height="1"/><rect x="542" y="344" width="3" height="1"/><rect x="542" y="390" width="3" height="1"/><rect x="542" y="435" width="3" height="1"/><rect x="542" y="481" width="3" height="1"/><rect x="542" y="526" width="3" height="1"/><rect x="548" y="117" width="3" height="1"/><rect x="548" y="162" width="3" height="1"/><rect x="548" y="208" width="3" height="1"/><rect x="548" y="253" width="3" height="1"/><rect x="548" y="299" width="3" height="1"/><rect x="548" y="344" width="3" height="1"/><rect x="548" y="390" width="3" height="1"/><rect x="548" y="435" width="3" height="1"/><rect x="548" y="481" width="3" height="1"/><rect x="548" y="526" width="3" height="1"/><rect x="554" y="117" width="3" height="1"/><rect x="554" y="162" width="3" height="1"/><rect x="554" y="208" width="3" height="1"/><rect x="554" y="253" width="3" height="1"/><rect x="554" y="299" width="3" height="1"/><rect x="554" y="344" width="3" height="1"/><rect x="554" y="390" width="3" height="1"/><rect x="554" y="435" width="3" height="1"/><rect x="554" y="481" width="3" height="1"/><rect x="554" y="526" width="3" height="1"/><rect x="560" y="117" width="3" height="1"/><rect x="560" y="162" width="3" height="1"/><rect x="560" y="208" width="3" height="1"/><rect x="560" y="253" width="3" height="1"/><rect x="560" y="299" width="3" height="1"/><rect x="560" y="344" width="3" height="1"/><rect x="560" y="390" width="3" height="1"/><rect x="560" y="435" width="3" height="1"/><rect x="560" y="481" width="3" height="1"/><rect x="560" y="526" width="3" height="1"/></g>
<g fill="#6c1886"><rect x="89" y="242" width="1" height="2"/><rect x="91" y="245" width="1" height="2"/><rect x="93" y="248" width="1" height="2"/><rect x="95" y="251" width="1" height="2"/><rect x="97" y="254" width="1" height="2"/><rect x="99" y="257" width="1" height="2"/><rect x="102" y="261" width="1" height="2"/><rect x="104" y="264" width="1" height="2"/><rect x="106" y="267" width="1" height="2"/><rect x="108" y="270" width="1" height="2"/><rect x="110" y="273" width="1" height="2"/><rect x="112" y="276" width="1" height="2"/><rect x="113" y="278" width="1" height="2"/><rect x="114" y="280" width="1" height="2"/><rect x="115" y="282" width="1" height="2"/><rect x="116" y="284" width="1" height="3"/><rect x="117" y="287" width="1" height="2"/><rect x="118" y="289" width="1" height="2"/><rect x="119" y="291" width="1" height="2"/><rect x="120" y="293" width="1" height="2"/><rect x="121" y="295" width="1" height="3"/><rect x="122" y="298" width="1" height="2"/><rect x="123" y="300" width="1" height="2"/><rect x="124" y="302" width="1" height="2"/><rect x="125" y="304" width="1" height="2"/><rect x="126" y="306" width="1" height="3"/><rect x="127" y="309" width="1" height="2"/><rect x="128" y="311" width="1" height="2"/><rect x="129" y="313" width="1" height="2"/><rect x="130" y="315" width="1" height="2"/><rect x="131" y="317" width="1" height="3"/><rect x="132" y="320" width="1" height="2"/><rect x="133" y="322" width="1" height="2"/><rect x="134" y="324" width="1" height="2"/><rect x="135" y="326" width="1" height="3"/><rect x="136" y="329" width="1" height="2"/><rect x="137" y="331" width="1" height="2"/><rect x="138" y="333" width="1" height="3"/><rect x="139" y="336" width="1" height="4"/><rect x="140" y="340" width="1" height="4"/><rect x="141" y="344" width="1" height="4"/><rect x="142" y="348" width="1" height="4"/><rect x="143" y="352" width="1" height="4"/><rect x="144" y="356" width="1" height="4"/><rect x="145" y="360" width="1" height="4"/><rect x="146" y="364" width="1" height="4"/><rect x="147" y="368" width="1" height="4"/><rect x="148" y="372" width="1" height="4"/><rect x="149" y="376" width="1" height="4"/><rect x="150" y="380" width="1" height="4"/><rect x="151" y="384" width="1" height="4"/><rect x="152" y="388" width="1" height="4"/><rect x="153" y="392" width="1" height="4"/><rect x="154" y="396" width="1" height="4"/><rect x="155" y="400" width="1" height="4"/><rect x="156" y="404" width="1" height="4"/><rect x="157" y="408" width="1" height="4"/><rect x="158" y="412" width="1" height="4"/><rect x="159" y="416" width="1" height="4"/><rect x="160" y="420" width="1" height="4"/><rect x="161" y="424" width="1" height="4"/><rect x="162" y="428" width="1" height="4"/><rect x="163" y="432" width="1" height="4"/><rect x="164" y="436" width="1" height="5"/><rect x="165" y="441" width="1" height="5"/><rect x="166" y="446" width="1" height="5"/><rect x="167" y="451" width="1" height="6"/><rect x="168" y="457" width="1" height="5"/><rect x="169" y="462" width="1" height="5"/><rect x="170" y="467" width="1" height="5"/><rect x="171" y="472" width="1" height="5"/><rect x="172" y="477" width="1" height="5"/><rect x="173" y="482" width="1" height="5"/><rect x="174" y="487" width="1" height="5"/><rect x="175" y="492" width="1" height="5"/><rect x="176" y="497" width="1" height="6"/><rect x="177" y="503" width="1" height="5"/><rect x="178" y="508" width="1" height="5"/><rect x="179" y="513" width="1" height="5"/><rect x="180" y="518" width="1" height="5"/><rect x="181" y="523" width="1" height="5"/><rect x="182" y="528" width="1" height="5"/><rect x="183" y="533" width="1" height="5"/><rect x="184" y="538" width="1" height="6"/><rect x="185" y="544" width="1" height="5"/><rect x="186" y="549" width="1" height="5"/><rect x="187" y="554" width="1" height="5"/><rect x="188" y="558" width="1" height="4"/><rect x="189" y="552" width="1" height="6"/><rect x="190" y="546" width="1" height="6"/><rect x="191" y="540" width="1" height="6"/><rect x="192" y="533" width="1" height="7"/><rect x="193" y="527" width="1" height="6"/><rect x="194" y="521" width="1" height="6"/><rect x="195" y="515" width="1" height="6"/><rect x="196" y="508" width="1" height="7"/><rect x="197" y="502" width="1" height="6"/><rect x="198" y="496" width="1" height="6"/><rect x="199" y="490" width="1" height="6"/><rect x="200" y="483" width="1" height="7"/><rect x="201" y="477" width="1" height="6"/><rect x="202" y="471" width="1" height="6"/><rect x="203" y="465" width="1" height="6"/><rect x="204" y="458" width="1" height="7"/><rect x="205" y="452" width="1" height="6"/><rect x="206" y="446" width="1" height="6"/><rect x="207" y="439" width="1" height="7"/><rect x="208" y="433" width="1" height="6"/><rect x="209" y="427" width="1" height="6"/><rect x="210" y="421" width="1" height="6"/><rect x="211" y="414" width="1" height="7"/><rect x="212" y="408" width="1" height="6"/><rect x="213" y="403" width="1" height="5"/><rect x="214" y="400" width="1" height="3"/><rect x="215" y="397" width="1" height="3"/><rect x="216" y="394" width="1" height="3"/><rect x="217" y="391" width="1" height="3"/><rect x="218" y="389" width="1" height="2"/><rect x="219" y="386" width="1" height="3"/><rect x="220" y="383" width="1" height="3"/><rect x="221" y="380" width="1" height="3"/><rect x="222" y="377" width="1" height="3"/><rect x="223" y="375" width="1" height="2"/><rect x="224" y="372" width="1" height="3"/><rect x="225" y="369" width="1" height="3"/><rect x="226" y="366" width="1" height="3"/><rect x="227" y="363" width="1" height="3"/><rect x="228" y="360" width="1" height="3"/><rect x="229" y="358" width="1" height="2"/><rect x="230" y="355" width="1" height="3"/><rect x="231" y="352" width="1" height="3"/><rect x="232" y="349" width="1" height="3"/><rect x="233" y="346" width="1" height="3"/><rect x="234" y="343" width="1" height="3"/><rect x="235" y="341" width="1" height="2"/><rect x="236" y="338" width="1" height="3"/><rect x="237" y="335" width="1" height="3"/><rect x="238" y="333" width="1" height="2"/><rect x="239" y="331" width="1" height="2"/><rect x="241" y="328" width="1" height="2"/><rect x="243" y="325" width="1" height="2"/><rect x="245" y="322" width="1" height="2"/><rect x="247" y="319" width="1" height="2"/><rect x="249" y="316" width="1" height="2"/><rect x="251" y="313" width="1" height="2"/><rect x="252" y="311" width="1" height="2"/><rect x="254" y="308" width="1" height="2"/><rect x="256" y="305" width="1" height="2"/><rect x="258" y="302" width="1" height="2"/><rect x="260" y="299" width="1" height="2"/><rect x="262" y="296" width="1" height="2"/><rect x="276" y="281" width="1" height="2"/><rect x="563" y="160" width="1" height="1"/><rect x="562" y="161" width="1" height="1"/><rect x="561" y="162" width="1" height="1"/><rect x="560" y="163" width="1" height="1"/><rect x="559" y="164" width="1" height="1"/><rect x="558" y="165" width="1" height="1"/><rect x="557" y="166" width="1" height="1"/><rect x="556" y="167" width="1" height="1"/><rect x="555" y="168" width="1" height="1"/><rect x="554" y="169" width="1" height="1"/><rect x="553" y="170" width="1" height="1"/><rect x="552" y="171" width="1" height="1"/><rect x="551" y="172" width="1" height="1"/><rect x="550" y="173" width="1" height="1"/><rect x="549" y="174" width="1" height="1"/><rect x="548" y="175" width="1" height="1"/><rect x="547" y="176" width="1" height="1"/><rect x="546" y="177" width="1" height="1"/><rect x="545" y="178" width="1" height="1"/><rect x="544" y="179" width="1" height="1"/><rect x="543" y="180" width="1" height="1"/><rect x="542" y="181" width="1" height="1"/><rect x="541" y="182" width="1" height="1"/><rect x="540" y="183" width="1" height="1"/><rect x="539" y="184" width="1" height="1"/><rect x="538" y="185" width="1" height="1"/><rect x="537" y="186" width="1" height="1"/><rect x="536" y="187" width="1" height="1"/><rect x="535" y="188" width="1" height="1"/><rect x="534" y="189" width="1" height="1"/><rect x="533" y="190" width="1" height="1"/><rect x="531" y="191" width="2" height="1"/><rect x="530" y="192" width="1" height="1"/><rect x="529" y="193" width="1" height="1"/><rect x="528" y="194" width="1" height="1"/><rect x="527" y="195" width="1" height="1"/><rect x="526" y="196" width="1" height="1"/><rect x="525" y="197" width="1" height="1"/><rect x="524" y="198" width="1" height="1"/><rect x="523" y="199" width="1" height="1"/><rect x="522" y="200" width="1" height="1"/><rect x="521" y="201" width="1" height="1"/><rect x="519" y="202" width="2" height="1"/><rect x="518" y="203" width="1" height="1"/><rect x="517" y="204" width="1" height="1"/><rect x="516" y="205" width="1" height="1"/><rect x="515" y="206" width="1" height="1"/><rect x="514" y="207" width="1" height="1"/><rect x="513" y="208" width="1" height="1"/><rect x="511" y="209" width="2" height="1"/><rect x="510" y="210" width="1" height="1"/><rect x="508" y="211" width="2" height="1"/><rect x="506" y="212" width="2" height="1"/><rect x="505" y="213" width="1" height="1"/><rect x="503" y="214" width="2" height="1"/><rect x="502" y="215" width="1" height="1"/><rect x="500" y="216" width="2" height="1"/><rect x="64" y="217" width="1" height="1"/><rect x="499" y="217" width="1" height="1"/><rect x="65" y="218" width="1" height="1"/><rect x="497" y="218" width="2" height="1"/><rect x="66" y="219" width="1" height="1"/><rect x="496" y="219" width="1" height="1"/><rect x="67" y="220" width="1" height="1"/><rect x="494" y="220" width="2" height="1"/><rect x="68" y="221" width="1" height="1"/><rect x="492" y="221" width="2" height="1"/><rect x="69" y="222" width="1" height="1"/><rect x="491" y="222" width="1" height="1"/><rect x="70" y="223" width="1" height="1"/><rect x="489" y="223" width="2" height="1"/><rect x="71" y="224" width="1" height="1"/><rect x="487" y="224" width="2" height="1"/><rect x="72" y="225" width="1" height="1"/><rect x="485" y="225" width="2" height="1"/><rect x="73" y="226" width="1" height="1"/><rect x="483" y="226" width="2" height="1"/><rect x="74" y="227" width="1" height="1"/><rect x="481" y="227" width="2" height="1"/><rect x="75" y="228" width="1" height="1"/><rect x="478" y="228" width="3" height="1"/><rect x="76" y="229" width="1" height="1"/><rect x="476" y="229" width="2" height="1"/><rect x="77" y="230" width="1" height="1"/><rect x="474" y="230" width="2" height="1"/><rect x="78" y="231" width="1" height="1"/><rect x="471" y="231" width="3" height="1"/><rect x="79" y="232" width="1" height="1"/><rect x="469" y="232" width="2" height="1"/><rect x="80" y="233" width="1" height="1"/><rect x="467" y="233" width="2" height="1"/><rect x="81" y="234" width="1" height="1"/><rect x="465" y="234" width="2" height="1"/><rect x="82" y="235" width="1" height="1"/><rect x="461" y="235" width="4" height="1"/><rect x="83" y="236" width="1" height="1"/><rect x="455" y="236" width="6" height="1"/><rect x="84" y="237" width="1" height="1"/><rect x="449" y="237" width="6" height="1"/><rect x="85" y="238" width="1" height="1"/><rect x="443" y="238" width="6" height="1"/><rect x="86" y="239" width="1" height="1"/><rect x="376" y="239" width="25" height="1"/><rect x="427" y="239" width="16" height="1"/><rect x="87" y="240" width="1" height="1"/><rect x="361" y="240" width="15" height="1"/><rect x="401" y="240" width="26" height="1"/><rect x="88" y="241" width="1" height="1"/><rect x="356" y="241" width="5" height="1"/><rect x="351" y="242" width="5" height="1"/><rect x="346" y="243" width="5" height="1"/><rect x="90" y="244" width="1" height="1"/><rect x="341" y="244" width="5" height="1"/><rect x="337" y="245" width="4" height="1"/><rect x="335" y="246" width="2" height="1"/><rect x="92" y="247" width="1" height="1"/><rect x="332" y="247" width="3" height="1"/><rect x="329" y="248" width="3" height="1"/><rect x="327" y="249" width="2" height="1"/><rect x="94" y="250" width="1" height="1"/><rect x="324" y="250" width="3" height="1"/><rect x="321" y="251" width="3" height="1"/><rect x="319" y="252" width="2" height="1"/><rect x="96" y="253" width="1" height="1"/><rect x="316" y="253" width="3" height="1"/><rect x="314" y="254" width="2" height="1"/><rect x="312" y="255" width="2" height="1"/><rect x="98" y="256" width="1" height="1"/><rect x="310" y="256" width="2" height="1"/><rect x="308" y="257" width="2" height="1"/><rect x="306" y="258" width="2" height="1"/><rect x="100" y="259" width="1" height="1"/><rect x="305" y="259" width="1" height="1"/><rect x="101" y="260" width="1" height="1"/><rect x="303" y="260" width="2" height="1"/><rect x="301" y="261" width="2" height="1"/><rect x="299" y="262" width="2" height="1"/><rect x="103" y="263" width="1" height="1"/><rect x="298" y="263" width="1" height="1"/><rect x="296" y="264" width="2" height="1"/><rect x="294" y="265" width="2" height="1"/><rect x="105" y="266" width="1" height="1"/><rect x="292" y="266" width="2" height="1"/><rect x="290" y="267" width="2" height="1"/><rect x="289" y="268" width="1" height="1"/><rect x="107" y="269" width="1" height="1"/><rect x="288" y="269" width="1" height="1"/><rect x="287" y="270" width="1" height="1"/><rect x="286" y="271" width="1" height="1"/><rect x="109" y="272" width="1" height="1"/><rect x="285" y="272" width="1" height="1"/><rect x="284" y="273" width="1" height="1"/><rect x="283" y="274" width="1" height="1"/><rect x="111" y="275" width="1" height="1"/><rect x="282" y="275" width="1" height="1"/><rect x="281" y="276" width="1" height="1"/><rect x="280" y="277" width="1" height="1"/><rect x="279" y="278" width="1" height="1"/><rect x="278" y="279" width="1" height="1"/><rect x="277" y="280" width="1" height="1"/><rect x="275" y="283" width="1" height="1"/><rect x="274" y="284" width="1" height="1"/><rect x="273" y="285" width="1" height="1"/><rect x="272" y="286" width="1" height="1"/><rect x="271" y="287" width="1" height="1"/><rect x="270" y="288" width="1" height="1"/><rect x="269" y="289" width="1" height="1"/><rect x="268" y="290" width="1" height="1"/><rect x="267" y="291" width="1" height="1"/><rect x="266" y="292" width="1" height="1"/><rect x="265" y="293" width="1" height="1"/><rect x="264" y="294" width="1" height="1"/><rect x="263" y="295" width="1" height="1"/><rect x="261" y="298" width="1" height="1"/><rect x="259" y="301" width="1" height="1"/><rect x="257" y="304" width="1" height="1"/><rect x="255" y="307" width="1" height="1"/><rect x="253" y="310" width="1" height="1"/><rect x="250" y="315" width="1" height="1"/><rect x="248" y="318" width="1" height="1"/><rect x="246" y="321" width="1" height="1"/><rect x="244" y="324" width="1" height="1"/><rect x="242" y="327" width="1" height="1"/><rect x="240" y="330" width="1" height="1"/></g>
<g fill="#6c1886"><rect x="63" y="214" width="1" height="1"/><rect x="64" y="214" width="1" height="1"/><rect x="62" y="215" width="1" height="1"/><rect x="65" y="215" width="1" height="1"/><rect x="61" y="216" width="1" height="1"/><rect x="66" y="216" width="1" height="1"/><rect x="61" y="217" width="1" height="1"/><rect x="66" y="217" width="1" height="1"/><rect x="62" y="218" width="1" height="1"/><rect x="65" y="218" width="1" height="1"/><rect x="63" y="219" width="1" height="1"/><rect x="64" y="219" width="1" height="1"/><rect x="187" y="558" width="1" height="1"/><rect x="188" y="558" width="1" height="1"/><rect x="186" y="559" width="1" height="1"/><rect x="189" y="559" width="1" height="1"/><rect x="185" y="560" width="1" height="1"/><rect x="190" y="560" width="1" height="1"/><rect x="185" y="561" width="1" height="1"/><rect x="190" y="561" width="1" height="1"/><rect x="186" y="562" width="1" height="1"/><rect x="189" y="562" width="1" height="1"/><rect x="187" y="563" width="1" height="1"/><rect x="188" y="563" width="1" height="1"/><rect x="313" y="251" width="1" height="1"/><rect x="314" y="251" width="1" height="1"/><rect x="312" y="252" width="1" height="1"/><rect x="315" y="252" width="1" height="1"/><rect x="311" y="253" width="1" height="1"/><rect x="316" y="253" width="1" height="1"/><rect x="311" y="254" width="1" height="1"/><rect x="316" y="254" width="1" height="1"/><rect x="312" y="255" width="1" height="1"/><rect x="315" y="255" width="1" height="1"/><rect x="313" y="256" width="1" height="1"/><rect x="314" y="256" width="1" height="1"/><rect x="438" y="236" width="1" height="1"/><rect x="439" y="236" width="1" height="1"/><rect x="437" y="237" width="1" height="1"/><rect x="440" y="237" width="1" height="1"/><rect x="436" y="238" width="1" height="1"/><rect x="441" y="238" width="1" height="1"/><rect x="436" y="239" width="1" height="1"/><rect x="441" y="239" width="1" height="1"/><rect x="437" y="240" width="1" height="1"/><rect x="440" y="240" width="1" height="1"/><rect x="438" y="241" width="1" height="1"/><rect x="439" y="241" width="1" height="1"/><rect x="562" y="157" width="1" height="1"/><rect x="563" y="157" width="1" height="1"/><rect x="561" y="158" width="1" height="1"/><rect x="564" y="158" width="1" height="1"/><rect x="560" y="159" width="1" height="1"/><rect x="565" y="159" width="1" height="1"/><rect x="560" y="160" width="1" height="1"/><rect x="565" y="160" width="1" height="1"/><rect x="561" y="161" width="1" height="1"/><rect x="564" y="161" width="1" height="1"/><rect x="562" y="162" width="1" height="1"/><rect x="563" y="162" width="1" height="1"/></g>
<path d="M64.5 72.5H563.5V571.5H64.5Z" fill="none" stroke="#000" stroke-width="1"/>
<g fill="#a0a0a0"><rect x="64" y="117" width="1" height="1"/><rect x="64" y="162" width="1" height="1"/><rect x="64" y="208" width="1" height="1"/><rect x="64" y="253" width="1" height="1"/><rect x="64" y="299" width="1" height="1"/><rect x="64" y="344" width="1" height="1"/><rect x="64" y="390" width="1" height="1"/><rect x="64" y="435" width="1" height="1"/><rect x="64" y="481" width="1" height="1"/><rect x="64" y="526" width="1" height="1"/><rect x="113" y="72" width="1" height="1"/><rect x="113" y="571" width="1" height="1"/><rect x="163" y="72" width="1" height="1"/><rect x="163" y="571" width="1" height="1"/><rect x="213" y="72" width="1" height="1"/><rect x="213" y="571" width="1" height="1"/><rect x="263" y="72" width="1" height="1"/><rect x="263" y="571" width="1" height="1"/><rect x="313" y="72" width="1" height="1"/><rect x="313" y="571" width="1" height="1"/><rect x="363" y="72" width="1" height="1"/><rect x="363" y="571" width="1" height="1"/><rect x="413" y="72" width="1" height="1"/><rect x="413" y="571" width="1" height="1"/><rect x="463" y="72" width="1" height="1"/><rect x="463" y="571" width="1" height="1"/><rect x="513" y="72" width="1" height="1"/><rect x="513" y="571" width="1" height="1"/></g>
<g fill="#ffffff"><rect x="563" y="117" width="1" height="1"/><rect x="563" y="162" width="1" height="1"/><rect x="563" y="208" width="1" height="1"/><rect x="563" y="253" width="1" height="1"/><rect x="563" y="299" width="1" height="1"/><rect x="563" y="344" width="1" height="1"/><rect x="563" y="390" width="1" height="1"/><rect x="563" y="435" width="1" height="1"/><rect x="563" y="481" width="1" height="1"/><rect x="563" y="526" width="1" height="1"/></g>
<g font-size="12" letter-spacing="0.33"><text x="56.3" y="78" text-anchor="end">-9</text><text x="571.5" y="78">-9</text><text x="56.3" y="122" text-anchor="end">-12</text><text x="571.5" y="122">-12</text><text x="56.3" y="167" text-anchor="end">-15</text><text x="571.5" y="167">-15</text><text x="56.3" y="213" text-anchor="end">-18</text><text x="571.5" y="213">-18</text><text x="56.3" y="258" text-anchor="end">-21</text><text x="571.5" y="258">-21</text><text x="56.3" y="304" text-anchor="end">-24</text><text x="571.5" y="304">-24</text><text x="56.3" y="349" text-anchor="end">-27</text><text x="571.5" y="349">-27</text><text x="56.3" y="395" text-anchor="end">-30</text><text x="571.5" y="395">-30</text><text x="56.3" y="440" text-anchor="end">-33</text><text x="571.5" y="440">-33</text><text x="56.3" y="486" text-anchor="end">-36</text><text x="571.5" y="486">-36</text><text x="56.3" y="531" text-anchor="end">-39</text><text x="571.5" y="531">-39</text><text x="56.3" y="576" text-anchor="end">-42</text><text x="571.5" y="576">-42</text><text x="66" y="592" text-anchor="middle">2.4</text><text x="113.5" y="592" text-anchor="middle">2.41</text><text x="163.5" y="592" text-anchor="middle">2.42</text><text x="213.5" y="592" text-anchor="middle">2.43</text><text x="263.5" y="592" text-anchor="middle">2.44</text><text x="313.5" y="592" text-anchor="middle">2.45</text><text x="363.5" y="592" text-anchor="middle">2.46</text><text x="413.5" y="592" text-anchor="middle">2.47</text><text x="463.5" y="592" text-anchor="middle">2.48</text><text x="513.5" y="592" text-anchor="middle">2.49</text><text x="564" y="592" text-anchor="middle">2.5</text></g>
<text x="313.5" y="607" text-anchor="middle" font-weight="bold" font-size="12" stroke="#000" stroke-width="0.25" letter-spacing="-0.3">Freq (GHz)</text>
<text transform="translate(28,323) rotate(-90)" font-weight="bold" font-size="12" stroke="#000" stroke-width="0.25">dB</text>
<text transform="translate(609,323) rotate(-90)" font-weight="bold" font-size="12" stroke="#000" stroke-width="0.25">dB</text>
<text x="314.1" y="26" text-anchor="middle" font-weight="bold" font-size="16" letter-spacing="-0.042">S-Parameters Display</text>
<path d="M64 49.5H94" stroke="#6c1886" stroke-width="1"/>
<g fill="#6c1886"><rect x="78" y="46" width="1" height="1"/><rect x="79" y="46" width="1" height="1"/><rect x="77" y="47" width="1" height="1"/><rect x="80" y="47" width="1" height="1"/><rect x="76" y="48" width="1" height="1"/><rect x="81" y="48" width="1" height="1"/><rect x="76" y="49" width="1" height="1"/><rect x="81" y="49" width="1" height="1"/><rect x="77" y="50" width="1" height="1"/><rect x="80" y="50" width="1" height="1"/><rect x="78" y="51" width="1" height="1"/><rect x="79" y="51" width="1" height="1"/></g>
<rect x="95" y="43" width="12" height="12" fill="#fff"/>
<path d="M95.5 55V43.5H107" stroke="#989894" fill="none"/>
<path d="M96.5 54V44.5H106" stroke="#707070" fill="none"/>
<path d="M95 54.5H106.5V43" stroke="#d8d6d0" fill="none"/>
<text x="110" y="54" font-weight="bold" font-size="12" stroke="#000" stroke-width="0.25">dB[S(1,1)]</text></svg>
</body></html>
